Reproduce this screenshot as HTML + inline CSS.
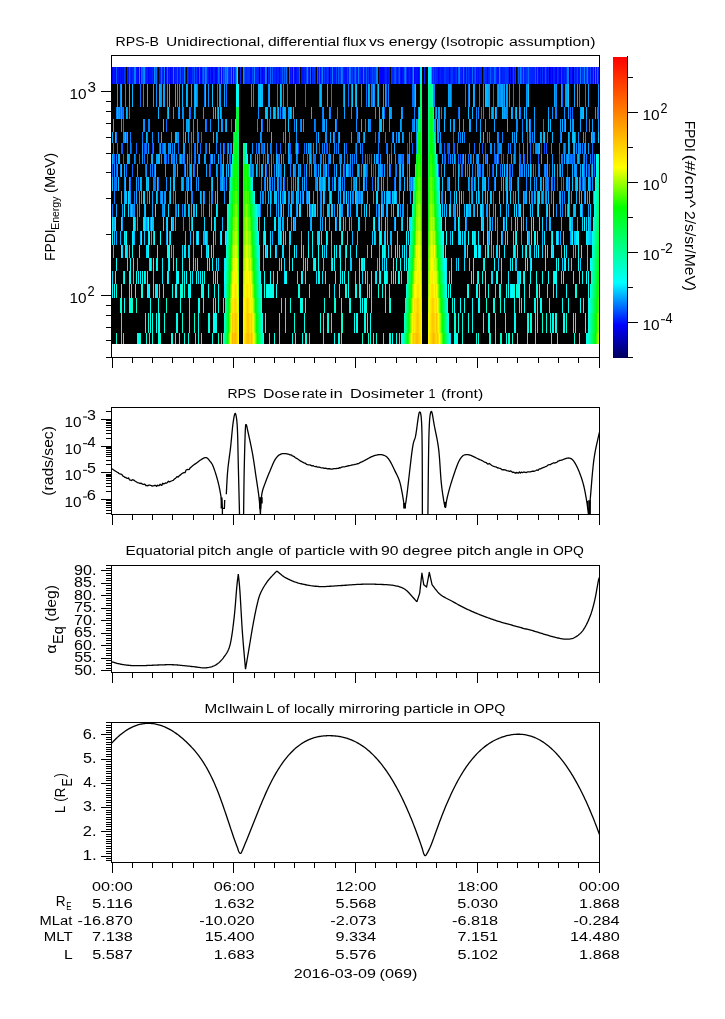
<!DOCTYPE html><html><head><meta charset="utf-8"><style>html,body{margin:0;padding:0;background:#fff;overflow:hidden}svg{display:block;will-change:transform}text{font-family:"Liberation Sans",sans-serif;fill:#000;white-space:pre}</style></head><body>
<svg width="725" height="1019" viewBox="0 0 725 1019">
<rect width="725" height="1019" fill="#fff"/>
<rect x="112" y="67" width="487" height="277" fill="#000" shape-rendering="crispEdges"/>
<path d="M112 67h1v17h-1zM115 67h1v17h-1zM117 67h1v17h-1zM119 67h1v17h-1zM121 67h1v17h-1zM123 67h1v17h-1zM138 67h1v17h-1zM140 67h1v17h-1zM148 67h1v17h-1zM153 67h1v17h-1zM157 67h1v17h-1zM170 67h1v17h-1zM181 67h1v17h-1zM189 67h1v17h-1zM195 67h1v17h-1zM198 67h1v17h-1zM201 67h1v17h-1zM209 67h1v17h-1zM211 67h2v17h-2zM215 67h2v17h-2zM220 67h1v17h-1zM232 67h1v17h-1zM262 67h1v17h-1zM279 67h1v17h-1zM287 67h1v17h-1zM292 67h1v17h-1zM295 67h1v17h-1zM309 67h1v17h-1zM323 67h1v17h-1zM333 67h1v17h-1zM337 67h1v17h-1zM369 67h1v17h-1zM380 67h4v17h-4zM387 67h1v17h-1zM401 67h1v17h-1zM407 67h1v17h-1zM411 67h1v17h-1zM414 67h1v17h-1zM418 67h1v17h-1zM438 67h1v17h-1zM449 67h1v17h-1zM457 67h1v17h-1zM465 67h1v17h-1zM473 67h1v17h-1zM487 67h1v17h-1zM517 67h1v17h-1zM539 67h1v17h-1zM541 67h1v17h-1zM543 67h1v17h-1zM547 67h1v17h-1zM550 67h1v17h-1zM552 67h1v17h-1zM555 67h2v17h-2zM559 67h2v17h-2zM572 67h1v17h-1zM591 67h1v17h-1zM594 67h1v17h-1z" fill="rgb(0,0,255)" shape-rendering="crispEdges"/>
<path d="M113 67h2v17h-2zM118 67h1v17h-1zM120 67h1v17h-1zM122 67h1v17h-1zM128 67h1v17h-1zM131 67h1v17h-1zM136 67h2v17h-2zM146 67h1v17h-1zM149 67h3v17h-3zM159 67h1v17h-1zM163 67h1v17h-1zM166 67h1v17h-1zM168 67h1v17h-1zM171 67h2v17h-2zM174 67h1v17h-1zM178 67h1v17h-1zM183 67h1v17h-1zM185 67h1v17h-1zM190 67h2v17h-2zM197 67h1v17h-1zM200 67h1v17h-1zM208 67h1v17h-1zM222 67h1v17h-1zM250 67h2v17h-2zM255 67h1v17h-1zM261 67h1v17h-1zM263 67h2v17h-2zM269 67h1v17h-1zM271 67h1v17h-1zM273 67h1v17h-1zM276 67h1v17h-1zM283 67h1v17h-1zM290 67h1v17h-1zM294 67h1v17h-1zM296 67h1v17h-1zM301 67h3v17h-3zM305 67h1v17h-1zM315 67h1v17h-1zM318 67h1v17h-1zM320 67h1v17h-1zM325 67h1v17h-1zM331 67h1v17h-1zM334 67h2v17h-2zM344 67h3v17h-3zM353 67h1v17h-1zM357 67h1v17h-1zM361 67h2v17h-2zM365 67h1v17h-1zM367 67h1v17h-1zM379 67h1v17h-1zM384 67h1v17h-1zM388 67h2v17h-2zM397 67h1v17h-1zM400 67h1v17h-1zM402 67h2v17h-2zM408 67h1v17h-1zM410 67h1v17h-1zM415 67h3v17h-3zM419 67h1v17h-1zM439 67h1v17h-1zM441 67h3v17h-3zM453 67h2v17h-2zM462 67h1v17h-1zM467 67h1v17h-1zM470 67h2v17h-2zM476 67h1v17h-1zM478 67h1v17h-1zM497 67h2v17h-2zM501 67h1v17h-1zM510 67h1v17h-1zM512 67h1v17h-1zM514 67h1v17h-1zM536 67h1v17h-1zM538 67h1v17h-1zM544 67h1v17h-1zM551 67h1v17h-1zM562 67h2v17h-2zM565 67h1v17h-1zM570 67h1v17h-1zM575 67h1v17h-1zM578 67h2v17h-2zM581 67h1v17h-1zM585 67h1v17h-1zM589 67h1v17h-1zM592 67h1v17h-1zM596 67h1v17h-1z" fill="rgb(0,18,255)" shape-rendering="crispEdges"/>
<path d="M116 67h1v17h-1zM129 67h1v17h-1zM142 67h1v17h-1zM177 67h1v17h-1zM180 67h1v17h-1zM194 67h1v17h-1zM223 67h1v17h-1zM244 67h1v17h-1zM272 67h1v17h-1zM282 67h1v17h-1zM284 67h1v17h-1zM299 67h1v17h-1zM317 67h1v17h-1zM338 67h1v17h-1zM366 67h1v17h-1zM395 67h1v17h-1zM399 67h1v17h-1zM404 67h1v17h-1zM475 67h1v17h-1zM490 67h1v17h-1zM495 67h1v17h-1zM518 67h1v17h-1zM521 67h1v17h-1zM535 67h1v17h-1zM537 67h1v17h-1zM545 67h1v17h-1zM593 67h1v17h-1zM121 143h2v11h-2zM127 143h1v11h-1zM159 143h1v11h-1zM162 143h1v11h-1zM189 143h1v11h-1zM205 143h1v11h-1zM224 143h1v11h-1zM290 143h1v11h-1zM319 143h1v11h-1zM346 143h1v11h-1zM407 143h1v11h-1zM444 143h1v11h-1zM448 143h1v11h-1zM453 143h2v11h-2zM482 143h1v11h-1zM533 143h1v11h-1zM546 143h1v11h-1zM563 143h1v11h-1zM565 143h1v11h-1zM114 154h1v10h-1zM135 154h1v10h-1zM166 154h1v10h-1zM179 154h1v10h-1zM182 154h1v10h-1zM210 154h1v10h-1zM221 154h1v10h-1zM251 154h1v10h-1zM265 154h1v10h-1zM273 154h1v10h-1zM347 154h1v10h-1zM367 154h1v10h-1zM369 154h1v10h-1zM371 154h1v10h-1zM402 154h1v10h-1zM444 154h1v10h-1zM448 154h1v10h-1zM460 154h1v10h-1zM471 154h1v10h-1zM486 154h1v10h-1zM494 154h1v10h-1zM496 154h1v10h-1zM503 154h1v10h-1zM513 154h1v10h-1zM524 154h1v10h-1zM538 154h1v10h-1zM559 154h1v10h-1zM569 154h1v10h-1zM572 154h1v10h-1zM583 154h1v10h-1zM210 164h1v13h-1zM277 164h1v13h-1zM281 164h1v13h-1zM299 164h1v13h-1zM304 164h1v13h-1zM328 164h1v13h-1zM344 164h1v13h-1zM349 164h1v13h-1zM359 164h1v13h-1zM367 164h1v13h-1zM373 164h1v13h-1zM395 164h1v13h-1zM455 164h1v13h-1zM475 164h1v13h-1zM492 164h1v13h-1zM510 164h1v13h-1zM520 164h1v13h-1zM535 164h1v13h-1zM546 164h1v13h-1zM549 164h1v13h-1zM567 164h1v13h-1zM588 164h1v13h-1zM594 164h1v13h-1z" fill="rgb(0,91,255)" shape-rendering="crispEdges"/>
<path d="M124 67h1v17h-1zM187 67h1v17h-1zM192 67h1v17h-1zM196 67h1v17h-1zM204 67h1v17h-1zM228 67h1v17h-1zM247 67h3v17h-3zM260 67h1v17h-1zM314 67h1v17h-1zM324 67h1v17h-1zM327 67h1v17h-1zM340 67h1v17h-1zM352 67h1v17h-1zM368 67h1v17h-1zM374 67h2v17h-2zM391 67h1v17h-1zM398 67h1v17h-1zM406 67h1v17h-1zM435 67h1v17h-1zM444 67h2v17h-2zM451 67h2v17h-2zM456 67h1v17h-1zM468 67h1v17h-1zM474 67h1v17h-1zM484 67h1v17h-1zM500 67h1v17h-1zM505 67h3v17h-3zM515 67h1v17h-1zM526 67h2v17h-2zM542 67h1v17h-1zM557 67h1v17h-1zM566 67h1v17h-1zM574 67h1v17h-1zM582 67h2v17h-2z" fill="rgb(0,55,255)" shape-rendering="crispEdges"/>
<path d="M125 67h1v17h-1zM127 67h1v17h-1zM130 67h1v17h-1zM132 67h2v17h-2zM145 67h1v17h-1zM147 67h1v17h-1zM152 67h1v17h-1zM160 67h1v17h-1zM162 67h1v17h-1zM169 67h1v17h-1zM175 67h2v17h-2zM179 67h1v17h-1zM182 67h1v17h-1zM188 67h1v17h-1zM193 67h1v17h-1zM207 67h1v17h-1zM210 67h1v17h-1zM213 67h2v17h-2zM217 67h1v17h-1zM229 67h2v17h-2zM234 67h1v17h-1zM240 67h1v17h-1zM245 67h2v17h-2zM253 67h1v17h-1zM256 67h3v17h-3zM268 67h1v17h-1zM274 67h2v17h-2zM277 67h2v17h-2zM280 67h2v17h-2zM285 67h1v17h-1zM291 67h1v17h-1zM297 67h2v17h-2zM304 67h1v17h-1zM308 67h1v17h-1zM312 67h2v17h-2zM326 67h1v17h-1zM328 67h1v17h-1zM330 67h1v17h-1zM339 67h1v17h-1zM343 67h1v17h-1zM348 67h1v17h-1zM351 67h1v17h-1zM356 67h1v17h-1zM359 67h2v17h-2zM364 67h1v17h-1zM370 67h2v17h-2zM373 67h1v17h-1zM385 67h2v17h-2zM392 67h2v17h-2zM396 67h1v17h-1zM409 67h1v17h-1zM424 67h1v17h-1zM432 67h1v17h-1zM434 67h1v17h-1zM436 67h2v17h-2zM440 67h1v17h-1zM446 67h3v17h-3zM450 67h1v17h-1zM455 67h1v17h-1zM460 67h2v17h-2zM464 67h1v17h-1zM469 67h1v17h-1zM477 67h1v17h-1zM479 67h3v17h-3zM483 67h1v17h-1zM485 67h2v17h-2zM488 67h2v17h-2zM491 67h3v17h-3zM496 67h1v17h-1zM502 67h3v17h-3zM508 67h1v17h-1zM519 67h1v17h-1zM522 67h1v17h-1zM524 67h2v17h-2zM529 67h6v17h-6zM540 67h1v17h-1zM546 67h1v17h-1zM548 67h1v17h-1zM553 67h2v17h-2zM558 67h1v17h-1zM564 67h1v17h-1zM571 67h1v17h-1zM576 67h1v17h-1zM588 67h1v17h-1zM598 67h1v17h-1z" fill="rgb(0,36,255)" shape-rendering="crispEdges"/>
<path d="M134 67h2v17h-2zM143 67h1v17h-1zM164 67h1v17h-1zM173 67h1v17h-1zM184 67h1v17h-1zM205 67h1v17h-1zM225 67h1v17h-1zM231 67h1v17h-1zM233 67h1v17h-1zM254 67h1v17h-1zM265 67h1v17h-1zM307 67h1v17h-1zM322 67h1v17h-1zM332 67h1v17h-1zM341 67h1v17h-1zM349 67h1v17h-1zM358 67h1v17h-1zM363 67h1v17h-1zM376 67h2v17h-2zM405 67h1v17h-1zM459 67h1v17h-1zM499 67h1v17h-1zM520 67h1v17h-1zM567 67h2v17h-2zM580 67h1v17h-1zM584 67h1v17h-1zM587 67h1v17h-1zM595 67h1v17h-1zM197 84h1v23h-1zM204 84h1v23h-1zM217 84h1v23h-1zM277 84h1v23h-1zM287 84h1v23h-1zM305 84h1v23h-1zM319 84h1v23h-1zM331 84h1v23h-1zM343 84h1v23h-1zM351 84h1v23h-1zM371 84h1v23h-1zM388 84h1v23h-1zM434 84h1v23h-1zM465 84h1v23h-1zM468 84h1v23h-1zM479 84h1v23h-1zM497 84h1v23h-1zM499 84h1v23h-1zM513 84h1v23h-1zM527 84h1v23h-1zM579 84h1v23h-1zM585 84h1v23h-1zM116 107h1v12h-1zM123 107h1v12h-1zM129 107h1v12h-1zM183 107h1v12h-1zM195 107h1v12h-1zM217 107h1v12h-1zM277 107h1v12h-1zM280 107h1v12h-1zM322 107h1v12h-1zM330 107h1v12h-1zM337 107h1v12h-1zM414 107h1v12h-1zM441 107h1v12h-1zM445 107h1v12h-1zM476 107h1v12h-1zM478 107h1v12h-1zM481 107h1v12h-1zM491 107h1v12h-1zM503 107h1v12h-1zM507 107h1v12h-1zM520 107h1v12h-1zM555 107h2v12h-2zM597 107h1v12h-1zM123 119h1v13h-1zM148 119h2v13h-2zM189 119h1v13h-1zM231 119h1v13h-1zM269 119h1v13h-1zM294 119h1v13h-1zM300 119h1v13h-1zM314 119h1v13h-1zM322 119h1v13h-1zM336 119h1v13h-1zM365 119h1v13h-1zM369 119h2v13h-2zM401 119h1v13h-1zM412 119h2v13h-2zM417 119h1v13h-1zM438 119h1v13h-1zM517 119h1v13h-1zM522 119h1v13h-1zM530 119h1v13h-1zM543 119h1v13h-1zM564 119h1v13h-1zM586 119h1v13h-1zM116 132h1v11h-1zM130 132h1v11h-1zM142 132h1v11h-1zM147 132h1v11h-1zM177 132h1v11h-1zM197 132h2v11h-2zM217 132h1v11h-1zM261 132h1v11h-1zM289 132h1v11h-1zM316 132h1v11h-1zM334 132h1v11h-1zM358 132h1v11h-1zM363 132h1v11h-1zM385 132h1v11h-1zM392 132h1v11h-1zM403 132h1v11h-1zM411 132h1v11h-1zM460 132h1v11h-1zM464 132h1v11h-1zM489 132h1v11h-1zM498 132h1v11h-1zM502 132h1v11h-1zM529 132h1v11h-1zM532 132h1v11h-1zM560 132h1v11h-1zM569 132h1v11h-1zM575 132h1v11h-1zM585 132h1v11h-1zM117 143h1v11h-1zM130 143h1v11h-1zM145 143h1v11h-1zM153 143h1v11h-1zM163 143h1v11h-1zM165 143h1v11h-1zM172 143h1v11h-1zM195 143h1v11h-1zM206 143h1v11h-1zM216 143h1v11h-1zM220 143h1v11h-1zM258 143h1v11h-1zM270 143h1v11h-1zM322 143h1v11h-1zM378 143h1v11h-1zM387 143h1v11h-1zM409 143h1v11h-1zM457 143h1v11h-1zM469 143h1v11h-1zM479 143h1v11h-1zM494 143h1v11h-1zM498 143h2v11h-2zM501 143h1v11h-1zM508 143h1v11h-1zM510 143h1v11h-1zM514 143h1v11h-1zM535 143h1v11h-1zM559 143h1v11h-1zM576 143h1v11h-1zM582 143h1v11h-1zM584 143h1v11h-1zM116 154h1v10h-1zM164 154h1v10h-1zM168 154h1v10h-1zM173 154h1v10h-1zM184 154h1v10h-1zM191 154h1v10h-1zM195 154h1v10h-1zM198 154h1v10h-1zM214 154h1v10h-1zM263 154h1v10h-1zM307 154h1v10h-1zM313 154h1v10h-1zM320 154h2v10h-2zM325 154h1v10h-1zM352 154h1v10h-1zM354 154h1v10h-1zM365 154h1v10h-1zM403 154h1v10h-1zM437 154h1v10h-1zM476 154h1v10h-1zM495 154h1v10h-1zM507 154h1v10h-1zM519 154h1v10h-1zM561 154h1v10h-1zM566 154h1v10h-1zM571 154h1v10h-1zM590 154h1v10h-1zM594 154h1v10h-1zM150 164h1v13h-1zM152 164h1v13h-1zM154 164h1v13h-1zM175 164h1v13h-1zM187 164h1v13h-1zM209 164h1v13h-1zM217 164h1v13h-1zM253 164h1v13h-1zM274 164h1v13h-1zM279 164h2v13h-2zM290 164h1v13h-1zM295 164h1v13h-1zM309 164h1v13h-1zM323 164h1v13h-1zM334 164h1v13h-1zM361 164h1v13h-1zM366 164h1v13h-1zM375 164h1v13h-1zM379 164h1v13h-1zM396 164h1v13h-1zM407 164h1v13h-1zM441 164h1v13h-1zM459 164h1v13h-1zM467 164h1v13h-1zM478 164h1v13h-1zM482 164h1v13h-1zM493 164h1v13h-1zM506 164h1v13h-1zM509 164h1v13h-1zM512 164h1v13h-1zM522 164h1v13h-1zM531 164h1v13h-1zM538 164h1v13h-1zM544 164h1v13h-1zM116 177h1v14h-1zM138 177h1v14h-1zM153 177h2v14h-2zM158 177h1v14h-1zM186 177h2v14h-2zM220 177h1v14h-1zM261 177h1v14h-1zM264 177h1v14h-1zM272 177h1v14h-1zM280 177h1v14h-1zM315 177h1v14h-1zM325 177h1v14h-1zM338 177h1v14h-1zM342 177h1v14h-1zM344 177h1v14h-1zM353 177h1v14h-1zM355 177h1v14h-1zM366 177h1v14h-1zM377 177h1v14h-1zM410 177h1v14h-1zM412 177h1v14h-1zM469 177h1v14h-1zM472 177h1v14h-1zM488 177h1v14h-1zM494 177h1v14h-1zM526 177h1v14h-1zM546 177h1v14h-1zM554 177h1v14h-1zM563 177h1v14h-1zM590 177h1v14h-1zM114 191h1v13h-1zM134 191h1v13h-1zM147 191h1v13h-1zM160 191h1v13h-1zM173 191h1v13h-1zM185 191h1v13h-1zM191 191h2v13h-2zM201 191h1v13h-1zM209 191h1v13h-1zM212 191h1v13h-1zM263 191h1v13h-1zM265 191h1v13h-1zM271 191h1v13h-1zM278 191h1v13h-1zM282 191h2v13h-2zM289 191h1v13h-1zM293 191h1v13h-1zM302 191h1v13h-1zM306 191h1v13h-1zM320 191h1v13h-1zM348 191h1v13h-1zM352 191h2v13h-2zM358 191h1v13h-1zM360 191h1v13h-1zM390 191h1v13h-1zM441 191h1v13h-1zM469 191h1v13h-1zM471 191h1v13h-1zM493 191h1v13h-1zM524 191h1v13h-1zM531 191h2v13h-2zM541 191h1v13h-1zM543 191h1v13h-1zM545 191h1v13h-1zM562 191h1v13h-1zM564 191h1v13h-1zM112 204h1v13h-1zM133 204h1v13h-1zM163 204h1v13h-1zM175 204h1v13h-1zM182 204h1v13h-1zM260 204h1v13h-1zM323 204h1v13h-1zM407 204h1v13h-1zM518 204h1v13h-1zM562 204h1v13h-1z" fill="rgb(0,127,255)" shape-rendering="crispEdges"/>
<path d="M139 67h1v17h-1zM144 67h1v17h-1zM154 67h1v17h-1zM221 67h1v17h-1zM227 67h1v17h-1zM243 67h1v17h-1zM413 67h1v17h-1zM120 84h1v23h-1zM125 84h1v23h-1zM143 84h1v23h-1zM156 84h1v23h-1zM161 84h1v23h-1zM208 84h1v23h-1zM253 84h1v23h-1zM268 84h1v23h-1zM283 84h1v23h-1zM361 84h1v23h-1zM369 84h1v23h-1zM374 84h1v23h-1zM414 84h1v23h-1zM433 84h1v23h-1zM449 84h1v23h-1zM483 84h1v23h-1zM500 84h1v23h-1zM507 84h1v23h-1zM509 84h1v23h-1zM519 84h1v23h-1zM526 84h1v23h-1zM556 84h1v23h-1zM565 84h1v23h-1zM598 84h1v23h-1zM118 107h1v12h-1zM127 107h1v12h-1zM167 107h1v12h-1zM178 107h1v12h-1zM182 107h1v12h-1zM189 107h1v12h-1zM221 107h1v12h-1zM258 107h1v12h-1zM275 107h1v12h-1zM288 107h2v12h-2zM291 107h1v12h-1zM323 107h1v12h-1zM351 107h1v12h-1zM391 107h1v12h-1zM402 107h1v12h-1zM459 107h1v12h-1zM483 107h1v12h-1zM493 107h1v12h-1zM505 107h2v12h-2zM515 107h1v12h-1zM552 107h1v12h-1zM564 107h1v12h-1zM568 107h1v12h-1zM143 119h2v13h-2zM183 119h1v13h-1zM187 119h1v13h-1zM205 119h1v13h-1zM210 119h1v13h-1zM222 119h1v13h-1zM225 119h1v13h-1zM257 119h1v13h-1zM301 119h1v13h-1zM356 119h1v13h-1zM453 119h1v13h-1zM476 119h1v13h-1zM516 119h1v13h-1zM572 119h1v13h-1zM589 119h1v13h-1zM598 119h1v13h-1zM123 132h2v11h-2zM152 132h1v11h-1zM158 132h1v11h-1zM171 132h1v11h-1zM178 132h1v11h-1zM191 132h1v11h-1zM260 132h1v11h-1zM283 132h1v11h-1zM296 132h1v11h-1zM325 132h2v11h-2zM338 132h1v11h-1zM379 132h1v11h-1zM396 132h1v11h-1zM409 132h1v11h-1zM416 132h1v11h-1zM437 132h1v11h-1zM440 132h1v11h-1zM458 132h1v11h-1zM487 132h1v11h-1zM497 132h1v11h-1zM514 132h1v11h-1zM530 132h1v11h-1zM547 132h1v11h-1zM578 132h1v11h-1zM592 132h1v11h-1zM594 132h1v11h-1zM168 143h1v11h-1zM223 143h1v11h-1zM231 143h1v11h-1zM252 143h1v11h-1zM259 143h1v11h-1zM264 143h1v11h-1zM267 143h1v11h-1zM306 143h1v11h-1zM313 143h1v11h-1zM324 143h1v11h-1zM334 143h1v11h-1zM338 143h1v11h-1zM356 143h1v11h-1zM360 143h1v11h-1zM416 143h1v11h-1zM440 143h1v11h-1zM490 143h2v11h-2zM500 143h1v11h-1zM523 143h1v11h-1zM536 143h2v11h-2zM551 143h1v11h-1zM564 143h1v11h-1zM569 143h1v11h-1zM573 143h1v11h-1zM578 143h1v11h-1zM580 143h1v11h-1zM134 154h1v10h-1zM161 154h1v10h-1zM165 154h1v10h-1zM174 154h1v10h-1zM176 154h1v10h-1zM181 154h1v10h-1zM205 154h1v10h-1zM227 154h1v10h-1zM255 154h1v10h-1zM268 154h1v10h-1zM271 154h1v10h-1zM279 154h1v10h-1zM283 154h1v10h-1zM296 154h1v10h-1zM309 154h1v10h-1zM340 154h2v10h-2zM344 154h1v10h-1zM356 154h1v10h-1zM380 154h1v10h-1zM389 154h1v10h-1zM395 154h1v10h-1zM399 154h2v10h-2zM407 154h1v10h-1zM450 154h1v10h-1zM452 154h1v10h-1zM470 154h1v10h-1zM483 154h1v10h-1zM485 154h1v10h-1zM523 154h1v10h-1zM527 154h1v10h-1zM552 154h1v10h-1zM574 154h1v10h-1zM577 154h1v10h-1zM584 154h1v10h-1zM114 164h1v13h-1zM120 164h1v13h-1zM146 164h1v13h-1zM174 164h1v13h-1zM193 164h1v13h-1zM230 164h1v13h-1zM250 164h1v13h-1zM269 164h1v13h-1zM294 164h1v13h-1zM311 164h1v13h-1zM315 164h1v13h-1zM325 164h1v13h-1zM343 164h1v13h-1zM348 164h1v13h-1zM350 164h1v13h-1zM357 164h1v13h-1zM381 164h1v13h-1zM402 164h1v13h-1zM472 164h1v13h-1zM479 164h1v13h-1zM483 164h1v13h-1zM521 164h1v13h-1zM526 164h1v13h-1zM533 164h1v13h-1zM539 164h1v13h-1zM562 164h1v13h-1zM574 164h1v13h-1zM576 164h1v13h-1zM124 177h1v14h-1zM166 177h1v14h-1zM181 177h1v14h-1zM183 177h1v14h-1zM196 177h1v14h-1zM198 177h1v14h-1zM221 177h1v14h-1zM226 177h1v14h-1zM270 177h1v14h-1zM274 177h1v14h-1zM278 177h1v14h-1zM291 177h1v14h-1zM316 177h1v14h-1zM321 177h1v14h-1zM387 177h1v14h-1zM409 177h1v14h-1zM448 177h1v14h-1zM471 177h1v14h-1zM509 177h1v14h-1zM534 177h1v14h-1zM536 177h1v14h-1zM541 177h1v14h-1zM547 177h1v14h-1zM551 177h1v14h-1zM580 177h1v14h-1zM584 177h1v14h-1zM592 177h1v14h-1zM130 191h1v13h-1zM157 191h1v13h-1zM164 191h1v13h-1zM169 191h1v13h-1zM204 191h1v13h-1zM211 191h1v13h-1zM224 191h1v13h-1zM262 191h1v13h-1zM288 191h1v13h-1zM292 191h1v13h-1zM297 191h1v13h-1zM344 191h1v13h-1zM381 191h2v13h-2zM393 191h1v13h-1zM442 191h1v13h-1zM463 191h1v13h-1zM479 191h1v13h-1zM513 191h1v13h-1zM535 191h1v13h-1zM551 191h1v13h-1zM584 191h1v13h-1zM130 204h1v13h-1zM134 204h1v13h-1zM137 204h1v13h-1zM162 204h1v13h-1zM176 204h1v13h-1zM185 204h1v13h-1zM201 204h1v13h-1zM276 204h1v13h-1zM280 204h1v13h-1zM296 204h1v13h-1zM310 204h2v13h-2zM313 204h1v13h-1zM317 204h1v13h-1zM320 204h2v13h-2zM334 204h1v13h-1zM341 204h2v13h-2zM348 204h1v13h-1zM361 204h1v13h-1zM376 204h1v13h-1zM378 204h1v13h-1zM400 204h1v13h-1zM402 204h2v13h-2zM454 204h1v13h-1zM473 204h1v13h-1zM483 204h1v13h-1zM486 204h1v13h-1zM556 204h1v13h-1zM569 204h1v13h-1zM582 204h1v13h-1zM146 217h1v14h-1zM150 217h1v14h-1zM183 217h1v14h-1zM294 217h1v14h-1zM365 217h1v14h-1zM466 217h1v14h-1zM489 217h1v14h-1zM492 217h1v14h-1zM546 217h1v14h-1zM589 217h1v14h-1z" fill="rgb(0,146,255)" shape-rendering="crispEdges"/>
<path d="M141 67h1v17h-1zM156 67h1v17h-1zM161 67h1v17h-1zM167 67h1v17h-1zM199 67h1v17h-1zM203 67h1v17h-1zM206 67h1v17h-1zM218 67h1v17h-1zM226 67h1v17h-1zM266 67h1v17h-1zM270 67h1v17h-1zM286 67h1v17h-1zM289 67h1v17h-1zM293 67h1v17h-1zM310 67h1v17h-1zM319 67h1v17h-1zM342 67h1v17h-1zM350 67h1v17h-1zM355 67h1v17h-1zM458 67h1v17h-1zM463 67h1v17h-1zM472 67h1v17h-1zM494 67h1v17h-1zM523 67h1v17h-1zM528 67h1v17h-1zM597 67h1v17h-1zM140 84h1v23h-1zM226 84h1v23h-1zM348 84h1v23h-1zM366 84h1v23h-1zM372 84h1v23h-1zM377 84h1v23h-1zM386 84h1v23h-1zM412 84h2v23h-2zM451 84h1v23h-1zM493 84h1v23h-1zM503 84h1v23h-1zM555 84h1v23h-1zM562 84h1v23h-1zM120 107h1v12h-1zM122 107h1v12h-1zM190 107h1v12h-1zM282 107h1v12h-1zM356 107h1v12h-1zM384 107h1v12h-1zM435 107h1v12h-1zM458 107h1v12h-1zM570 107h1v12h-1zM572 107h1v12h-1zM598 107h1v12h-1zM166 119h1v13h-1zM206 119h1v13h-1zM262 119h1v13h-1zM315 119h1v13h-1zM527 119h1v13h-1zM126 132h1v11h-1zM201 132h1v11h-1zM357 132h1v11h-1zM375 132h1v11h-1zM378 132h1v11h-1zM453 132h1v11h-1zM527 132h1v11h-1zM113 143h1v11h-1zM136 143h1v11h-1zM146 143h1v11h-1zM169 143h1v11h-1zM178 143h1v11h-1zM191 143h1v11h-1zM194 143h1v11h-1zM200 143h1v11h-1zM227 143h1v11h-1zM230 143h1v11h-1zM256 143h1v11h-1zM261 143h2v11h-2zM271 143h1v11h-1zM276 143h1v11h-1zM280 143h1v11h-1zM285 143h1v11h-1zM289 143h1v11h-1zM304 143h1v11h-1zM309 143h1v11h-1zM327 143h1v11h-1zM336 143h1v11h-1zM362 143h1v11h-1zM386 143h1v11h-1zM391 143h1v11h-1zM412 143h1v11h-1zM439 143h1v11h-1zM441 143h1v11h-1zM449 143h1v11h-1zM474 143h1v11h-1zM515 143h1v11h-1zM519 143h1v11h-1zM530 143h1v11h-1zM579 143h1v11h-1zM592 143h1v11h-1zM113 154h1v10h-1zM123 154h1v10h-1zM139 154h1v10h-1zM144 154h1v10h-1zM147 154h1v10h-1zM172 154h1v10h-1zM189 154h1v10h-1zM194 154h1v10h-1zM220 154h1v10h-1zM229 154h2v10h-2zM259 154h1v10h-1zM278 154h1v10h-1zM290 154h2v10h-2zM297 154h1v10h-1zM303 154h1v10h-1zM311 154h1v10h-1zM314 154h2v10h-2zM328 154h1v10h-1zM339 154h1v10h-1zM362 154h1v10h-1zM378 154h1v10h-1zM398 154h1v10h-1zM401 154h1v10h-1zM408 154h1v10h-1zM445 154h1v10h-1zM455 154h1v10h-1zM458 154h1v10h-1zM462 154h1v10h-1zM468 154h1v10h-1zM498 154h1v10h-1zM501 154h1v10h-1zM515 154h1v10h-1zM520 154h1v10h-1zM530 154h1v10h-1zM562 154h1v10h-1zM570 154h1v10h-1zM573 154h1v10h-1zM579 154h1v10h-1zM586 154h1v10h-1zM592 154h1v10h-1zM112 164h1v13h-1zM116 164h1v13h-1zM126 164h1v13h-1zM132 164h1v13h-1zM145 164h1v13h-1zM184 164h1v13h-1zM189 164h1v13h-1zM194 164h1v13h-1zM220 164h2v13h-2zM251 164h1v13h-1zM257 164h1v13h-1zM259 164h1v13h-1zM266 164h1v13h-1zM316 164h1v13h-1zM324 164h1v13h-1zM352 164h1v13h-1zM382 164h1v13h-1zM387 164h1v13h-1zM390 164h1v13h-1zM438 164h1v13h-1zM461 164h2v13h-2zM480 164h1v13h-1zM487 164h1v13h-1zM489 164h1v13h-1zM500 164h1v13h-1zM559 164h1v13h-1zM584 164h1v13h-1zM589 164h1v13h-1zM591 164h1v13h-1zM114 177h2v14h-2zM130 177h1v14h-1zM155 177h1v14h-1zM190 177h1v14h-1zM223 177h2v14h-2zM229 177h1v14h-1zM281 177h1v14h-1zM284 177h1v14h-1zM287 177h1v14h-1zM306 177h1v14h-1zM332 177h1v14h-1zM351 177h1v14h-1zM359 177h1v14h-1zM372 177h1v14h-1zM394 177h1v14h-1zM447 177h1v14h-1zM455 177h1v14h-1zM475 177h1v14h-1zM505 177h1v14h-1zM510 177h1v14h-1zM517 177h1v14h-1zM545 177h1v14h-1zM548 177h1v14h-1zM552 177h1v14h-1zM557 177h1v14h-1zM561 177h1v14h-1zM568 177h1v14h-1zM582 177h1v14h-1zM585 177h1v14h-1z" fill="rgb(0,109,255)" shape-rendering="crispEdges"/>
<path d="M155 67h1v17h-1zM202 67h1v17h-1zM219 67h1v17h-1zM224 67h1v17h-1zM235 67h1v17h-1zM252 67h1v17h-1zM306 67h1v17h-1zM321 67h1v17h-1zM336 67h1v17h-1zM347 67h1v17h-1zM354 67h1v17h-1zM372 67h1v17h-1zM394 67h1v17h-1zM412 67h1v17h-1zM433 67h1v17h-1zM466 67h1v17h-1zM513 67h1v17h-1zM561 67h1v17h-1zM577 67h1v17h-1zM586 67h1v17h-1zM590 67h1v17h-1zM131 143h1v11h-1zM144 143h1v11h-1zM152 143h1v11h-1zM263 143h1v11h-1zM295 143h1v11h-1zM298 143h1v11h-1zM311 143h1v11h-1zM326 143h1v11h-1zM329 143h1v11h-1zM355 143h1v11h-1zM447 143h1v11h-1zM485 143h1v11h-1zM497 143h1v11h-1zM541 143h1v11h-1zM544 143h1v11h-1z" fill="rgb(0,73,255)" shape-rendering="crispEdges"/>
<path d="M236 67h1v17h-1zM431 67h1v17h-1zM117 84h1v23h-1zM153 84h1v23h-1zM160 84h1v23h-1zM163 84h2v23h-2zM167 84h1v23h-1zM177 84h1v23h-1zM179 84h1v23h-1zM187 84h1v23h-1zM191 84h1v23h-1zM194 84h1v23h-1zM196 84h1v23h-1zM219 84h2v23h-2zM224 84h1v23h-1zM251 84h1v23h-1zM269 84h1v23h-1zM281 84h1v23h-1zM321 84h1v23h-1zM355 84h1v23h-1zM383 84h1v23h-1zM385 84h1v23h-1zM448 84h1v23h-1zM450 84h1v23h-1zM474 84h1v23h-1zM488 84h2v23h-2zM498 84h1v23h-1zM501 84h2v23h-2zM504 84h1v23h-1zM506 84h1v23h-1zM554 84h1v23h-1zM561 84h1v23h-1zM566 84h2v23h-2zM574 84h1v23h-1zM588 84h1v23h-1zM119 107h1v12h-1zM121 107h1v12h-1zM173 107h1v12h-1zM179 107h1v12h-1zM203 107h1v12h-1zM270 107h1v12h-1zM273 107h1v12h-1zM285 107h1v12h-1zM329 107h1v12h-1zM344 107h1v12h-1zM357 107h1v12h-1zM375 107h1v12h-1zM382 107h1v12h-1zM390 107h1v12h-1zM401 107h1v12h-1zM418 107h1v12h-1zM436 107h1v12h-1zM438 107h2v12h-2zM444 107h1v12h-1zM489 107h1v12h-1zM496 107h1v12h-1zM504 107h1v12h-1zM512 107h1v12h-1zM526 107h1v12h-1zM534 107h1v12h-1zM548 107h1v12h-1zM580 107h1v12h-1zM586 107h1v12h-1zM595 107h1v12h-1zM121 119h1v13h-1zM186 119h1v13h-1zM193 119h1v13h-1zM197 119h1v13h-1zM221 119h1v13h-1zM267 119h1v13h-1zM285 119h1v13h-1zM303 119h1v13h-1zM323 119h2v13h-2zM326 119h1v13h-1zM368 119h1v13h-1zM379 119h1v13h-1zM389 119h1v13h-1zM400 119h1v13h-1zM414 119h1v13h-1zM416 119h1v13h-1zM434 119h2v13h-2zM439 119h1v13h-1zM454 119h1v13h-1zM463 119h1v13h-1zM470 119h1v13h-1zM480 119h1v13h-1zM485 119h1v13h-1zM494 119h1v13h-1zM534 119h1v13h-1zM560 119h1v13h-1zM573 119h1v13h-1zM580 119h1v13h-1zM592 119h1v13h-1zM183 132h1v11h-1zM188 132h1v11h-1zM193 132h1v11h-1zM216 132h1v11h-1zM233 132h1v11h-1zM351 132h1v11h-1zM398 132h2v11h-2zM402 132h1v11h-1zM438 132h1v11h-1zM522 132h1v11h-1zM534 132h1v11h-1zM541 132h1v11h-1zM543 132h1v11h-1zM561 132h1v11h-1zM583 132h1v11h-1zM142 143h1v11h-1zM148 143h1v11h-1zM160 143h1v11h-1zM164 143h1v11h-1zM170 143h1v11h-1zM174 143h1v11h-1zM183 143h2v11h-2zM197 143h1v11h-1zM228 143h1v11h-1zM308 143h1v11h-1zM310 143h1v11h-1zM316 143h1v11h-1zM344 143h1v11h-1zM394 143h1v11h-1zM527 143h1v11h-1zM538 143h1v11h-1zM585 143h1v11h-1zM588 143h1v11h-1zM129 154h1v10h-1zM142 154h1v10h-1zM151 154h1v10h-1zM156 154h2v10h-2zM171 154h1v10h-1zM183 154h1v10h-1zM204 154h1v10h-1zM212 154h1v10h-1zM277 154h1v10h-1zM288 154h2v10h-2zM323 154h1v10h-1zM329 154h2v10h-2zM333 154h1v10h-1zM350 154h1v10h-1zM376 154h2v10h-2zM391 154h1v10h-1zM442 154h1v10h-1zM465 154h1v10h-1zM473 154h1v10h-1zM477 154h2v10h-2zM511 154h1v10h-1zM514 154h1v10h-1zM567 154h2v10h-2zM117 164h1v13h-1zM137 164h1v13h-1zM165 164h1v13h-1zM173 164h1v13h-1zM191 164h1v13h-1zM206 164h1v13h-1zM216 164h1v13h-1zM252 164h1v13h-1zM298 164h1v13h-1zM300 164h1v13h-1zM314 164h1v13h-1zM318 164h1v13h-1zM363 164h1v13h-1zM365 164h1v13h-1zM371 164h1v13h-1zM378 164h1v13h-1zM380 164h1v13h-1zM384 164h1v13h-1zM399 164h1v13h-1zM453 164h1v13h-1zM469 164h1v13h-1zM477 164h1v13h-1zM502 164h1v13h-1zM519 164h1v13h-1zM524 164h1v13h-1zM528 164h1v13h-1zM545 164h1v13h-1zM552 164h1v13h-1zM557 164h1v13h-1zM575 164h1v13h-1zM580 164h1v13h-1zM583 164h1v13h-1zM586 164h1v13h-1zM136 177h1v14h-1zM141 177h1v14h-1zM147 177h1v14h-1zM211 177h1v14h-1zM217 177h1v14h-1zM265 177h1v14h-1zM269 177h1v14h-1zM277 177h1v14h-1zM293 177h1v14h-1zM295 177h1v14h-1zM297 177h1v14h-1zM302 177h1v14h-1zM322 177h1v14h-1zM328 177h2v14h-2zM354 177h1v14h-1zM364 177h1v14h-1zM383 177h1v14h-1zM395 177h1v14h-1zM399 177h2v14h-2zM468 177h1v14h-1zM483 177h1v14h-1zM501 177h1v14h-1zM566 177h1v14h-1zM575 177h1v14h-1zM579 177h1v14h-1zM124 191h1v13h-1zM136 191h1v13h-1zM152 191h1v13h-1zM161 191h2v13h-2zM165 191h1v13h-1zM175 191h1v13h-1zM260 191h1v13h-1zM298 191h1v13h-1zM300 191h1v13h-1zM308 191h1v13h-1zM313 191h1v13h-1zM317 191h1v13h-1zM321 191h1v13h-1zM329 191h1v13h-1zM338 191h1v13h-1zM359 191h1v13h-1zM373 191h1v13h-1zM386 191h1v13h-1zM399 191h1v13h-1zM410 191h1v13h-1zM450 191h1v13h-1zM506 191h1v13h-1zM525 191h1v13h-1zM537 191h1v13h-1zM546 191h1v13h-1zM559 191h1v13h-1zM569 191h1v13h-1zM571 191h1v13h-1zM593 191h1v13h-1zM116 204h1v13h-1zM122 204h1v13h-1zM132 204h1v13h-1zM139 204h1v13h-1zM152 204h1v13h-1zM189 204h1v13h-1zM203 204h1v13h-1zM211 204h1v13h-1zM267 204h1v13h-1zM288 204h1v13h-1zM329 204h1v13h-1zM350 204h1v13h-1zM382 204h2v13h-2zM386 204h1v13h-1zM391 204h1v13h-1zM453 204h1v13h-1zM455 204h1v13h-1zM468 204h1v13h-1zM487 204h1v13h-1zM493 204h1v13h-1zM508 204h1v13h-1zM560 204h1v13h-1zM565 204h1v13h-1zM567 204h1v13h-1zM573 204h1v13h-1zM588 204h1v13h-1zM113 217h1v14h-1zM122 217h1v14h-1zM137 217h1v14h-1zM189 217h1v14h-1zM191 217h1v14h-1zM259 217h1v14h-1zM283 217h1v14h-1zM310 217h1v14h-1zM322 217h1v14h-1zM336 217h1v14h-1zM345 217h1v14h-1zM351 217h1v14h-1zM378 217h1v14h-1zM387 217h1v14h-1zM394 217h1v14h-1zM454 217h1v14h-1zM459 217h1v14h-1zM497 217h1v14h-1zM504 217h1v14h-1zM526 217h1v14h-1zM571 217h1v14h-1zM577 217h1v14h-1zM590 217h1v14h-1zM116 231h1v14h-1zM166 231h1v14h-1zM204 231h1v14h-1zM207 231h1v14h-1zM215 231h1v14h-1zM272 231h1v14h-1zM488 231h1v14h-1zM502 231h1v14h-1zM521 231h1v14h-1zM560 231h1v14h-1zM570 231h1v14h-1zM591 231h1v14h-1z" fill="rgb(0,164,255)" shape-rendering="crispEdges"/>
<path d="M237 67h1v17h-1zM420 67h2v17h-2zM428 67h3v17h-3zM252 177h1v14h-1zM124 204h1v13h-1zM155 204h1v13h-1zM196 204h1v13h-1zM216 204h1v13h-1zM299 204h1v13h-1zM309 204h1v13h-1zM312 204h1v13h-1zM381 204h1v13h-1zM449 204h1v13h-1zM481 204h1v13h-1zM538 204h1v13h-1zM553 204h1v13h-1zM568 204h1v13h-1zM112 217h1v14h-1zM115 217h1v14h-1zM121 217h1v14h-1zM133 217h2v14h-2zM144 217h1v14h-1zM151 217h1v14h-1zM163 217h1v14h-1zM192 217h1v14h-1zM214 217h1v14h-1zM264 217h1v14h-1zM274 217h2v14h-2zM325 217h1v14h-1zM335 217h1v14h-1zM339 217h2v14h-2zM379 217h1v14h-1zM385 217h1v14h-1zM410 217h1v14h-1zM445 217h1v14h-1zM481 217h1v14h-1zM503 217h1v14h-1zM506 217h1v14h-1zM515 217h1v14h-1zM521 217h1v14h-1zM531 217h1v14h-1zM539 217h1v14h-1zM570 217h1v14h-1zM124 231h1v14h-1zM132 231h1v14h-1zM148 231h1v14h-1zM170 231h1v14h-1zM205 231h1v14h-1zM280 231h1v14h-1zM321 231h1v14h-1zM397 231h1v14h-1zM460 231h1v14h-1zM474 231h1v14h-1zM478 231h1v14h-1zM483 231h1v14h-1zM507 231h1v14h-1zM513 231h1v14h-1zM537 231h1v14h-1zM544 231h1v14h-1zM557 231h1v14h-1zM576 231h2v14h-2zM586 231h1v14h-1zM125 245h2v13h-2zM139 245h1v13h-1zM184 245h1v13h-1zM259 245h1v13h-1zM275 245h1v13h-1zM312 245h1v13h-1zM336 245h1v13h-1zM340 245h1v13h-1zM350 245h1v13h-1zM356 245h1v13h-1zM445 245h1v13h-1zM467 245h1v13h-1zM475 245h1v13h-1zM485 245h1v13h-1zM499 245h1v13h-1zM504 245h1v13h-1zM517 245h1v13h-1zM522 245h1v13h-1zM530 245h1v13h-1zM553 245h1v13h-1zM127 258h1v13h-1zM149 258h1v13h-1zM157 258h1v13h-1zM162 258h1v13h-1zM168 258h1v13h-1zM224 258h1v13h-1zM279 258h1v13h-1zM289 258h1v13h-1zM303 258h1v13h-1zM305 258h1v13h-1zM307 258h1v13h-1zM361 258h1v13h-1zM404 258h1v13h-1zM446 258h1v13h-1zM451 258h1v13h-1zM469 258h1v13h-1zM510 258h1v13h-1zM564 258h1v13h-1zM568 258h1v13h-1zM571 258h1v13h-1zM138 271h1v13h-1zM140 271h1v13h-1zM162 271h1v13h-1zM168 271h1v13h-1zM176 271h1v13h-1zM184 271h1v13h-1zM200 271h1v13h-1zM273 271h1v13h-1zM297 271h1v13h-1zM302 271h1v13h-1zM305 271h1v13h-1zM319 271h1v13h-1zM322 271h1v13h-1zM376 271h1v13h-1zM379 271h1v13h-1zM391 271h1v13h-1zM399 271h1v13h-1zM401 271h1v13h-1zM446 271h1v13h-1zM477 271h1v13h-1zM501 271h1v13h-1zM508 271h1v13h-1zM523 271h1v13h-1zM553 271h1v13h-1zM561 271h1v13h-1zM148 284h1v14h-1zM155 284h3v14h-3zM159 284h1v14h-1zM224 284h1v14h-1zM261 284h1v14h-1zM299 284h1v14h-1zM334 284h1v14h-1zM389 284h1v14h-1zM479 284h1v14h-1zM495 284h1v14h-1zM510 284h1v14h-1zM517 284h1v14h-1zM529 284h1v14h-1zM556 284h1v14h-1z" fill="rgb(0,237,255)" shape-rendering="crispEdges"/>
<path d="M121 84h1v23h-1zM132 84h1v23h-1zM147 84h1v23h-1zM159 84h1v23h-1zM175 84h1v23h-1zM182 84h1v23h-1zM186 84h1v23h-1zM258 84h2v23h-2zM261 84h2v23h-2zM295 84h1v23h-1zM320 84h1v23h-1zM327 84h1v23h-1zM344 84h1v23h-1zM368 84h1v23h-1zM373 84h1v23h-1zM469 84h1v23h-1zM473 84h1v23h-1zM486 84h2v23h-2zM577 84h1v23h-1zM117 107h1v12h-1zM126 107h1v12h-1zM158 107h1v12h-1zM194 107h1v12h-1zM213 107h1v12h-1zM220 107h1v12h-1zM265 107h1v12h-1zM267 107h1v12h-1zM278 107h1v12h-1zM283 107h2v12h-2zM293 107h1v12h-1zM311 107h1v12h-1zM389 107h1v12h-1zM468 107h1v12h-1zM472 107h1v12h-1zM492 107h1v12h-1zM502 107h1v12h-1zM511 107h1v12h-1zM519 107h1v12h-1zM524 107h1v12h-1zM581 107h2v12h-2zM113 119h1v13h-1zM188 119h1v13h-1zM218 119h1v13h-1zM226 119h1v13h-1zM261 119h1v13h-1zM335 119h1v13h-1zM361 119h1v13h-1zM381 119h1v13h-1zM383 119h1v13h-1zM437 119h1v13h-1zM444 119h1v13h-1zM450 119h1v13h-1zM459 119h1v13h-1zM469 119h1v13h-1zM507 119h1v13h-1zM526 119h1v13h-1zM550 119h1v13h-1zM562 119h1v13h-1zM565 119h1v13h-1zM570 119h1v13h-1zM112 132h1v11h-1zM115 132h1v11h-1zM127 132h1v11h-1zM146 132h1v11h-1zM161 132h1v11h-1zM175 132h2v11h-2zM213 132h1v11h-1zM285 132h1v11h-1zM318 132h1v11h-1zM330 132h1v11h-1zM333 132h1v11h-1zM339 132h1v11h-1zM359 132h1v11h-1zM364 132h1v11h-1zM393 132h1v11h-1zM435 132h1v11h-1zM462 132h1v11h-1zM512 132h1v11h-1zM516 132h1v11h-1zM540 132h1v11h-1zM552 132h1v11h-1zM568 132h1v11h-1zM572 132h1v11h-1zM593 132h1v11h-1zM209 143h1v11h-1zM288 143h1v11h-1zM296 143h2v11h-2zM539 143h1v11h-1zM568 143h1v11h-1zM574 143h1v11h-1zM112 154h1v10h-1zM118 154h2v10h-2zM127 154h2v10h-2zM152 154h1v10h-1zM158 154h2v10h-2zM180 154h1v10h-1zM187 154h1v10h-1zM199 154h1v10h-1zM211 154h1v10h-1zM218 154h1v10h-1zM223 154h1v10h-1zM250 154h1v10h-1zM257 154h1v10h-1zM267 154h1v10h-1zM276 154h1v10h-1zM281 154h1v10h-1zM310 154h1v10h-1zM374 154h1v10h-1zM387 154h1v10h-1zM409 154h1v10h-1zM454 154h1v10h-1zM463 154h1v10h-1zM487 154h1v10h-1zM497 154h1v10h-1zM541 154h1v10h-1zM547 154h1v10h-1zM564 154h1v10h-1zM578 154h1v10h-1zM124 164h1v13h-1zM177 164h1v13h-1zM185 164h1v13h-1zM190 164h1v13h-1zM222 164h2v13h-2zM226 164h1v13h-1zM228 164h1v13h-1zM261 164h2v13h-2zM265 164h1v13h-1zM271 164h1v13h-1zM276 164h1v13h-1zM278 164h1v13h-1zM293 164h1v13h-1zM306 164h1v13h-1zM336 164h1v13h-1zM340 164h1v13h-1zM347 164h1v13h-1zM358 164h1v13h-1zM389 164h1v13h-1zM403 164h1v13h-1zM409 164h1v13h-1zM444 164h1v13h-1zM458 164h1v13h-1zM465 164h1v13h-1zM547 164h1v13h-1zM560 164h1v13h-1zM572 164h1v13h-1zM129 177h1v14h-1zM140 177h1v14h-1zM182 177h1v14h-1zM188 177h1v14h-1zM222 177h1v14h-1zM283 177h1v14h-1zM304 177h1v14h-1zM317 177h1v14h-1zM319 177h2v14h-2zM335 177h1v14h-1zM339 177h1v14h-1zM378 177h1v14h-1zM404 177h1v14h-1zM411 177h1v14h-1zM449 177h1v14h-1zM474 177h1v14h-1zM482 177h1v14h-1zM484 177h1v14h-1zM495 177h1v14h-1zM507 177h1v14h-1zM511 177h1v14h-1zM518 177h1v14h-1zM530 177h1v14h-1zM540 177h1v14h-1zM567 177h1v14h-1zM569 177h1v14h-1zM583 177h1v14h-1zM589 177h1v14h-1zM121 191h1v13h-1zM129 191h1v13h-1zM139 191h1v13h-1zM141 191h1v13h-1zM200 191h1v13h-1zM203 191h1v13h-1zM215 191h1v13h-1zM268 191h1v13h-1zM275 191h1v13h-1zM291 191h1v13h-1zM303 191h1v13h-1zM324 191h1v13h-1zM331 191h1v13h-1zM340 191h1v13h-1zM343 191h1v13h-1zM356 191h2v13h-2zM361 191h2v13h-2zM367 191h1v13h-1zM396 191h1v13h-1zM472 191h1v13h-1zM491 191h1v13h-1zM503 191h1v13h-1zM515 191h1v13h-1zM523 191h1v13h-1zM526 191h1v13h-1zM534 191h1v13h-1zM542 191h1v13h-1zM548 191h1v13h-1zM560 191h1v13h-1zM576 191h1v13h-1zM587 191h1v13h-1zM144 204h1v13h-1zM164 204h1v13h-1zM184 204h1v13h-1zM191 204h1v13h-1zM194 204h1v13h-1zM270 204h1v13h-1zM278 204h1v13h-1zM283 204h1v13h-1zM290 204h1v13h-1zM307 204h1v13h-1zM356 204h1v13h-1zM369 204h1v13h-1zM379 204h1v13h-1zM444 204h1v13h-1zM446 204h1v13h-1zM464 204h1v13h-1zM469 204h1v13h-1zM474 204h1v13h-1zM482 204h1v13h-1zM489 204h1v13h-1zM506 204h1v13h-1zM532 204h1v13h-1zM537 204h1v13h-1zM575 204h1v13h-1zM114 217h1v14h-1zM135 217h1v14h-1zM153 217h1v14h-1zM172 217h1v14h-1zM175 217h1v14h-1zM222 217h1v14h-1zM279 217h1v14h-1zM282 217h1v14h-1zM291 217h1v14h-1zM311 217h1v14h-1zM320 217h1v14h-1zM329 217h1v14h-1zM381 217h1v14h-1zM401 217h1v14h-1zM487 217h1v14h-1zM511 217h1v14h-1zM550 217h1v14h-1zM561 217h1v14h-1zM569 217h1v14h-1zM572 217h1v14h-1zM114 231h1v14h-1zM120 231h1v14h-1zM125 231h1v14h-1zM134 231h1v14h-1zM140 231h1v14h-1zM151 231h1v14h-1zM169 231h1v14h-1zM190 231h1v14h-1zM203 231h1v14h-1zM279 231h1v14h-1zM352 231h1v14h-1zM375 231h1v14h-1zM390 231h2v14h-2zM450 231h1v14h-1zM465 231h1v14h-1zM528 231h2v14h-2zM542 231h1v14h-1zM558 231h1v14h-1zM574 231h1v14h-1zM590 231h1v14h-1z" fill="rgb(0,182,255)" shape-rendering="crispEdges"/>
<path d="M129 84h1v23h-1zM169 84h1v23h-1zM195 84h1v23h-1zM205 84h1v23h-1zM212 84h1v23h-1zM260 84h1v23h-1zM280 84h1v23h-1zM352 84h1v23h-1zM356 84h1v23h-1zM378 84h1v23h-1zM415 84h1v23h-1zM485 84h1v23h-1zM528 84h1v23h-1zM568 84h1v23h-1zM168 107h1v12h-1zM215 107h1v12h-1zM218 107h1v12h-1zM266 107h1v12h-1zM274 107h1v12h-1zM290 107h1v12h-1zM379 107h1v12h-1zM383 107h1v12h-1zM495 107h1v12h-1zM516 107h1v12h-1zM583 107h1v12h-1zM163 119h1v13h-1zM288 119h1v13h-1zM296 119h1v13h-1zM380 119h1v13h-1zM529 119h1v13h-1zM548 119h1v13h-1zM125 132h1v11h-1zM185 132h1v11h-1zM271 132h1v11h-1zM480 132h1v11h-1zM483 132h1v11h-1zM544 132h1v11h-1zM573 132h2v11h-2zM591 132h1v11h-1zM598 132h1v11h-1zM121 164h1v13h-1zM155 164h1v13h-1zM197 164h1v13h-1zM256 164h1v13h-1zM284 164h1v13h-1zM320 164h1v13h-1zM326 164h1v13h-1zM346 164h1v13h-1zM364 164h1v13h-1zM400 164h1v13h-1zM496 164h1v13h-1zM504 164h1v13h-1zM507 164h1v13h-1zM530 164h1v13h-1zM554 164h1v13h-1zM582 164h1v13h-1zM592 164h1v13h-1zM112 177h1v14h-1zM118 177h1v14h-1zM125 177h1v14h-1zM146 177h1v14h-1zM148 177h1v14h-1zM157 177h1v14h-1zM170 177h1v14h-1zM173 177h2v14h-2zM191 177h1v14h-1zM212 177h1v14h-1zM267 177h1v14h-1zM298 177h1v14h-1zM323 177h2v14h-2zM334 177h1v14h-1zM340 177h1v14h-1zM356 177h1v14h-1zM363 177h1v14h-1zM375 177h1v14h-1zM381 177h1v14h-1zM407 177h1v14h-1zM413 177h1v14h-1zM439 177h1v14h-1zM442 177h1v14h-1zM458 177h1v14h-1zM478 177h1v14h-1zM485 177h1v14h-1zM503 177h1v14h-1zM506 177h1v14h-1zM543 177h1v14h-1zM572 177h1v14h-1zM576 177h2v14h-2zM588 177h1v14h-1zM125 191h2v13h-2zM149 191h1v13h-1zM156 191h1v13h-1zM187 191h1v13h-1zM270 191h1v13h-1zM274 191h1v13h-1zM276 191h1v13h-1zM285 191h1v13h-1zM296 191h1v13h-1zM307 191h1v13h-1zM350 191h1v13h-1zM384 191h1v13h-1zM387 191h3v13h-3zM392 191h1v13h-1zM454 191h1v13h-1zM476 191h1v13h-1zM478 191h1v13h-1zM482 191h1v13h-1zM485 191h1v13h-1zM487 191h1v13h-1zM490 191h1v13h-1zM518 191h1v13h-1zM529 191h1v13h-1zM553 191h1v13h-1zM568 191h1v13h-1zM579 191h1v13h-1zM581 191h1v13h-1zM585 191h1v13h-1zM589 191h1v13h-1zM131 204h1v13h-1zM145 204h1v13h-1zM188 204h1v13h-1zM193 204h1v13h-1zM209 204h1v13h-1zM217 204h1v13h-1zM291 204h1v13h-1zM297 204h1v13h-1zM314 204h1v13h-1zM327 204h2v13h-2zM331 204h2v13h-2zM337 204h1v13h-1zM340 204h1v13h-1zM357 204h1v13h-1zM364 204h1v13h-1zM387 204h1v13h-1zM393 204h1v13h-1zM442 204h1v13h-1zM457 204h1v13h-1zM467 204h1v13h-1zM470 204h1v13h-1zM480 204h1v13h-1zM495 204h1v13h-1zM500 204h1v13h-1zM523 204h1v13h-1zM530 204h1v13h-1zM546 204h1v13h-1zM549 204h1v13h-1zM574 204h1v13h-1zM580 204h1v13h-1zM590 204h1v13h-1zM145 217h1v14h-1zM147 217h1v14h-1zM152 217h1v14h-1zM166 217h1v14h-1zM173 217h1v14h-1zM215 217h1v14h-1zM278 217h1v14h-1zM280 217h1v14h-1zM295 217h1v14h-1zM359 217h1v14h-1zM455 217h1v14h-1zM465 217h1v14h-1zM482 217h1v14h-1zM490 217h1v14h-1zM495 217h1v14h-1zM523 217h1v14h-1zM549 217h1v14h-1zM586 217h1v14h-1zM144 231h1v14h-1zM153 231h1v14h-1zM185 231h1v14h-1zM196 231h1v14h-1zM263 231h1v14h-1zM278 231h1v14h-1zM281 231h1v14h-1zM301 231h1v14h-1zM317 231h1v14h-1zM357 231h1v14h-1zM372 231h1v14h-1zM384 231h1v14h-1zM458 231h1v14h-1zM473 231h1v14h-1zM475 231h1v14h-1zM489 231h1v14h-1zM497 231h1v14h-1zM551 231h1v14h-1zM571 231h1v14h-1zM575 231h1v14h-1zM589 231h1v14h-1zM113 245h1v13h-1zM127 245h1v13h-1zM129 245h1v13h-1zM171 245h1v13h-1zM173 245h1v13h-1zM189 245h1v13h-1zM193 245h1v13h-1zM207 245h1v13h-1zM266 245h1v13h-1zM276 245h1v13h-1zM296 245h1v13h-1zM324 245h1v13h-1zM331 245h1v13h-1zM345 245h1v13h-1zM379 245h1v13h-1zM383 245h1v13h-1zM385 245h1v13h-1zM406 245h1v13h-1zM464 245h1v13h-1zM487 245h1v13h-1zM491 245h1v13h-1zM493 245h1v13h-1zM515 245h1v13h-1zM525 245h1v13h-1zM529 245h1v13h-1zM561 245h1v13h-1zM573 245h1v13h-1zM575 245h1v13h-1zM137 258h1v13h-1zM151 258h1v13h-1zM195 258h1v13h-1zM218 258h1v13h-1zM263 258h1v13h-1zM345 258h1v13h-1zM350 258h2v13h-2zM363 258h1v13h-1zM377 258h1v13h-1zM456 258h1v13h-1zM498 258h1v13h-1zM515 258h2v13h-2zM562 258h1v13h-1zM580 258h1v13h-1z" fill="rgb(0,200,255)" shape-rendering="crispEdges"/>
<path d="M236 84h3v23h-3zM437 164h1v13h-1zM438 177h1v14h-1zM254 191h1v13h-1zM257 217h1v14h-1zM112 231h1v14h-1zM126 231h1v14h-1zM149 231h1v14h-1zM167 231h1v14h-1zM197 231h1v14h-1zM312 231h1v14h-1zM342 231h1v14h-1zM443 231h1v14h-1zM446 231h1v14h-1zM491 231h1v14h-1zM516 231h1v14h-1zM534 231h2v14h-2zM572 231h1v14h-1zM578 231h1v14h-1zM121 245h1v13h-1zM132 245h1v13h-1zM157 245h1v13h-1zM168 245h2v13h-2zM208 245h1v13h-1zM211 245h1v13h-1zM265 245h1v13h-1zM270 245h1v13h-1zM294 245h1v13h-1zM308 245h1v13h-1zM318 245h1v13h-1zM334 245h1v13h-1zM346 245h1v13h-1zM371 245h1v13h-1zM384 245h1v13h-1zM395 245h1v13h-1zM404 245h1v13h-1zM488 245h1v13h-1zM526 245h1v13h-1zM551 245h1v13h-1zM564 245h1v13h-1zM578 245h1v13h-1zM581 245h1v13h-1zM133 258h1v13h-1zM156 258h1v13h-1zM169 258h1v13h-1zM173 258h1v13h-1zM193 258h1v13h-1zM197 258h1v13h-1zM209 258h1v13h-1zM259 258h1v13h-1zM314 258h1v13h-1zM318 258h1v13h-1zM334 258h1v13h-1zM340 258h1v13h-1zM362 258h1v13h-1zM379 258h1v13h-1zM400 258h1v13h-1zM406 258h1v13h-1zM445 258h1v13h-1zM501 258h1v13h-1zM525 258h1v13h-1zM531 258h1v13h-1zM565 258h1v13h-1zM578 258h1v13h-1zM115 271h1v13h-1zM124 271h1v13h-1zM130 271h1v13h-1zM144 271h1v13h-1zM178 271h1v13h-1zM186 271h1v13h-1zM264 271h1v13h-1zM277 271h1v13h-1zM286 271h1v13h-1zM335 271h1v13h-1zM342 271h1v13h-1zM365 271h1v13h-1zM371 271h1v13h-1zM386 271h1v13h-1zM393 271h1v13h-1zM473 271h1v13h-1zM485 271h1v13h-1zM520 271h1v13h-1zM524 271h1v13h-1zM530 271h1v13h-1zM542 271h1v13h-1zM555 271h1v13h-1zM141 284h1v14h-1zM149 284h1v14h-1zM153 284h1v14h-1zM181 284h1v14h-1zM188 284h1v14h-1zM201 284h1v14h-1zM203 284h1v14h-1zM208 284h1v14h-1zM214 284h1v14h-1zM218 284h1v14h-1zM268 284h1v14h-1zM348 284h1v14h-1zM371 284h1v14h-1zM467 284h1v14h-1zM476 284h1v14h-1zM485 284h1v14h-1zM519 284h1v14h-1zM524 284h1v14h-1zM547 284h1v14h-1zM553 284h1v14h-1zM588 284h1v14h-1zM121 298h1v15h-1zM124 298h1v15h-1zM150 298h1v15h-1zM198 298h1v15h-1zM213 298h1v15h-1zM285 298h1v15h-1zM301 298h1v15h-1zM335 298h1v15h-1zM341 298h1v15h-1zM360 298h1v15h-1zM504 298h1v15h-1zM524 298h1v15h-1zM540 298h1v15h-1zM562 298h1v15h-1zM568 298h1v15h-1zM588 298h1v15h-1zM156 313h1v20h-1zM213 313h2v20h-2zM262 313h1v20h-1zM279 313h1v20h-1zM354 313h1v20h-1zM367 313h1v20h-1zM370 313h1v20h-1zM448 313h1v20h-1zM472 313h1v20h-1zM483 313h1v20h-1zM514 313h1v20h-1zM537 313h1v20h-1zM555 313h1v20h-1zM564 313h1v20h-1zM573 313h1v20h-1zM585 313h1v20h-1zM171 333h1v11h-1zM269 333h1v11h-1zM334 333h1v11h-1zM392 333h1v11h-1zM506 333h1v11h-1z" fill="rgb(0,255,245)" shape-rendering="crispEdges"/>
<path d="M420 84h1v23h-1zM429 84h1v23h-1zM419 119h1v13h-1zM421 143h1v11h-1zM428 143h1v11h-1zM230 204h1v13h-1zM253 217h1v14h-1zM413 217h1v14h-1zM598 217h1v14h-1zM229 231h1v14h-1zM440 258h1v13h-1zM256 271h1v13h-1zM441 271h1v13h-1zM595 271h1v13h-1zM442 284h1v14h-1zM443 298h1v15h-1zM259 333h1v11h-1zM592 333h1v11h-1z" fill="rgb(0,255,92)" shape-rendering="crispEdges"/>
<path d="M421 84h1v23h-1zM428 84h1v23h-1zM431 84h1v23h-1zM252 191h1v13h-1zM437 191h1v13h-1zM254 204h1v13h-1zM411 231h1v14h-1zM595 231h1v14h-1zM256 245h1v13h-1zM410 245h1v13h-1zM593 271h1v13h-1zM226 284h1v14h-1zM258 284h1v14h-1zM259 298h1v15h-1zM225 313h1v20h-1zM405 313h1v20h-1zM404 333h1v11h-1zM590 333h1v11h-1z" fill="rgb(0,255,153)" shape-rendering="crispEdges"/>
<path d="M430 84h1v23h-1zM418 119h1v13h-1zM233 143h1v11h-1zM434 143h1v11h-1zM243 154h3v10h-3zM435 164h1v13h-1zM231 177h1v14h-1zM253 204h1v13h-1zM413 204h1v13h-1zM229 217h1v14h-1zM438 217h1v14h-1zM597 217h1v14h-1zM439 231h1v14h-1zM596 231h1v14h-1zM228 245h1v13h-1zM440 245h1v13h-1zM256 258h1v13h-1zM227 271h1v13h-1zM594 271h1v13h-1zM408 284h1v14h-1zM258 298h1v15h-1zM407 298h1v15h-1zM259 313h1v20h-1zM445 313h1v20h-1zM225 333h1v11h-1zM446 333h1v11h-1zM591 333h1v11h-1z" fill="rgb(0,255,122)" shape-rendering="crispEdges"/>
<path d="M432 84h1v23h-1zM232 154h1v10h-1zM249 164h1v13h-1zM436 164h1v13h-1zM598 164h1v13h-1zM597 177h1v14h-1zM229 191h1v13h-1zM596 191h1v13h-1zM228 204h1v13h-1zM256 231h1v14h-1zM594 231h1v14h-1zM592 271h1v13h-1zM259 284h1v14h-1zM225 298h1v15h-1zM589 333h1v11h-1z" fill="rgb(0,255,184)" shape-rendering="crispEdges"/>
<path d="M236 107h3v12h-3zM429 107h1v12h-1zM432 107h1v12h-1zM420 119h1v13h-1zM234 132h1v11h-1zM237 132h1v11h-1zM433 132h1v11h-1zM233 154h1v10h-1zM421 164h1v13h-1zM428 164h1v13h-1zM232 177h1v14h-1zM249 177h1v14h-1zM250 191h1v13h-1zM414 204h1v13h-1zM253 231h1v14h-1zM412 245h1v13h-1zM411 258h1v13h-1zM255 271h1v13h-1zM596 271h1v13h-1zM406 333h1v11h-1zM593 333h1v11h-1z" fill="rgb(0,255,61)" shape-rendering="crispEdges"/>
<path d="M419 107h1v12h-1zM421 132h1v11h-1zM428 132h1v11h-1zM238 154h1v10h-1zM251 191h1v13h-1zM414 191h1v13h-1zM436 191h1v13h-1zM254 231h1v14h-1zM412 231h1v14h-1zM597 231h1v14h-1zM411 245h1v13h-1zM596 245h1v13h-1zM228 258h1v13h-1zM227 284h1v14h-1zM594 284h1v14h-1zM226 313h1v20h-1z" fill="rgb(0,255,102)" shape-rendering="crispEdges"/>
<path d="M420 107h1v12h-1zM421 154h1v10h-1zM428 154h1v10h-1zM238 177h1v14h-1zM243 177h1v14h-1zM415 177h1v14h-1zM436 204h1v13h-1zM230 217h1v14h-1zM437 217h1v14h-1zM598 231h1v14h-1zM229 245h1v13h-1zM254 245h1v13h-1zM597 245h1v13h-1zM410 271h1v13h-1zM256 284h1v14h-1zM409 284h1v14h-1zM595 284h1v14h-1zM407 313h1v20h-1zM226 333h1v11h-1z" fill="rgb(0,255,71)" shape-rendering="crispEdges"/>
<path d="M421 107h1v12h-1zM428 107h1v12h-1zM238 132h1v11h-1zM243 143h3v11h-3zM415 164h1v13h-1zM250 177h1v14h-1zM230 191h1v13h-1zM598 191h1v13h-1zM254 217h1v14h-1zM595 245h1v13h-1zM441 258h1v13h-1zM257 271h1v13h-1zM442 271h1v13h-1zM443 284h1v14h-1zM593 284h1v14h-1zM226 298h1v15h-1zM444 298h1v15h-1zM260 333h1v11h-1z" fill="rgb(0,255,133)" shape-rendering="crispEdges"/>
<path d="M430 107h2v12h-2zM236 119h3v13h-3zM429 119h1v13h-1zM432 119h1v13h-1zM235 132h2v11h-2zM234 143h1v11h-1zM237 143h1v11h-1zM421 177h1v14h-1zM428 177h1v14h-1zM231 204h1v13h-1zM251 204h1v13h-1zM438 245h1v13h-1zM254 258h1v13h-1zM596 284h1v14h-1zM256 298h1v15h-1zM257 313h1v20h-1zM444 333h1v11h-1z" fill="rgb(0,255,41)" shape-rendering="crispEdges"/>
<path d="M433 107h1v12h-1zM436 177h1v14h-1zM229 204h1v13h-1zM597 204h1v13h-1zM412 217h1v14h-1zM596 217h1v14h-1zM228 231h1v14h-1zM255 231h1v14h-1zM227 258h1v13h-1zM594 258h1v13h-1zM592 298h1v15h-1zM591 313h1v20h-1z" fill="rgb(0,255,143)" shape-rendering="crispEdges"/>
<path d="M235 119h1v13h-1zM436 154h1v10h-1zM596 154h1v10h-1zM595 177h1v14h-1zM594 191h1v13h-1zM227 204h1v13h-1zM256 204h1v13h-1zM593 217h1v14h-1zM592 231h1v14h-1zM258 245h1v13h-1zM176 258h1v13h-1zM207 258h1v13h-1zM225 258h1v13h-1zM281 258h1v13h-1zM396 258h1v13h-1zM484 258h1v13h-1zM512 258h1v13h-1zM558 258h1v13h-1zM591 258h1v13h-1zM136 271h1v13h-1zM142 271h1v13h-1zM182 271h1v13h-1zM190 271h1v13h-1zM196 271h1v13h-1zM202 271h1v13h-1zM204 271h1v13h-1zM213 271h1v13h-1zM217 271h1v13h-1zM318 271h1v13h-1zM325 271h1v13h-1zM348 271h1v13h-1zM384 271h1v13h-1zM398 271h1v13h-1zM478 271h1v13h-1zM482 271h1v13h-1zM496 271h1v13h-1zM536 271h1v13h-1zM554 271h1v13h-1zM579 271h1v13h-1zM131 284h1v14h-1zM172 284h1v14h-1zM202 284h1v14h-1zM270 284h3v14h-3zM309 284h1v14h-1zM339 284h1v14h-1zM345 284h1v14h-1zM356 284h1v14h-1zM359 284h1v14h-1zM382 284h1v14h-1zM448 284h1v14h-1zM450 284h1v14h-1zM468 284h1v14h-1zM488 284h1v14h-1zM506 284h1v14h-1zM508 284h1v14h-1zM518 284h1v14h-1zM575 284h1v14h-1zM131 298h1v15h-1zM158 298h1v15h-1zM180 298h1v15h-1zM203 298h1v15h-1zM218 298h1v15h-1zM261 298h1v15h-1zM300 298h1v15h-1zM350 298h1v15h-1zM364 298h1v15h-1zM385 298h1v15h-1zM389 298h1v15h-1zM464 298h1v15h-1zM514 298h1v15h-1zM534 298h1v15h-1zM583 298h1v15h-1zM589 298h1v15h-1zM145 313h1v20h-1zM150 313h1v20h-1zM158 313h2v20h-2zM176 313h1v20h-1zM198 313h1v20h-1zM215 313h2v20h-2zM304 313h1v20h-1zM323 313h1v20h-1zM356 313h2v20h-2zM488 313h2v20h-2zM505 313h1v20h-1zM528 313h1v20h-1zM550 313h1v20h-1zM552 313h1v20h-1zM556 313h1v20h-1zM563 313h1v20h-1zM588 313h1v20h-1zM137 333h2v11h-2zM172 333h1v11h-1zM179 333h1v11h-1zM188 333h1v11h-1zM212 333h1v11h-1zM292 333h1v11h-1zM302 333h1v11h-1zM338 333h2v11h-2zM383 333h1v11h-1zM396 333h1v11h-1zM402 333h1v11h-1zM449 333h1v11h-1zM455 333h2v11h-2zM527 333h1v11h-1zM535 333h1v11h-1zM557 333h1v11h-1zM586 333h1v11h-1z" fill="rgb(0,255,235)" shape-rendering="crispEdges"/>
<path d="M421 119h1v13h-1zM428 119h1v13h-1zM433 119h1v13h-1zM238 143h1v11h-1zM232 164h1v13h-1zM437 204h1v13h-1zM598 204h1v13h-1zM255 245h1v13h-1zM410 258h1v13h-1zM595 258h1v13h-1zM409 271h1v13h-1zM257 284h1v14h-1zM593 298h1v15h-1zM406 313h1v20h-1zM592 313h1v20h-1zM405 333h1v11h-1z" fill="rgb(0,255,112)" shape-rendering="crispEdges"/>
<path d="M430 119h2v13h-2zM235 143h2v11h-2zM417 143h1v11h-1zM420 143h1v11h-1zM429 143h1v11h-1zM432 143h1v11h-1zM233 164h1v13h-1zM416 164h1v13h-1zM435 204h1v13h-1zM252 231h1v14h-1zM230 245h1v13h-1zM412 258h1v13h-1zM254 271h1v13h-1zM411 271h1v13h-1zM441 298h1v15h-1zM596 298h1v15h-1zM595 313h1v20h-1zM227 333h1v11h-1zM407 333h1v11h-1z" fill="rgb(0,255,20)" shape-rendering="crispEdges"/>
<path d="M417 132h1v11h-1zM420 132h1v11h-1zM429 132h1v11h-1zM432 132h1v11h-1zM433 143h1v11h-1zM234 154h1v10h-1zM237 154h1v10h-1zM434 177h1v14h-1zM232 191h1v13h-1zM415 191h1v13h-1zM421 191h1v13h-1zM428 191h1v13h-1zM238 204h1v13h-1zM243 204h1v13h-1zM231 217h1v14h-1zM414 217h1v14h-1zM436 217h1v14h-1zM437 231h1v14h-1zM253 245h1v13h-1zM598 258h1v13h-1zM229 271h1v13h-1zM597 271h1v13h-1zM255 284h1v14h-1zM410 284h1v14h-1zM228 298h1v15h-1zM409 298h1v15h-1zM408 313h1v20h-1zM594 333h1v11h-1z" fill="rgb(0,255,31)" shape-rendering="crispEdges"/>
<path d="M418 132h2v11h-2zM430 132h2v11h-2zM235 154h2v10h-2zM433 154h1v10h-1zM234 164h1v13h-1zM237 164h1v13h-1zM244 164h1v13h-1zM247 164h1v13h-1zM249 191h1v13h-1zM421 204h1v13h-1zM428 204h1v13h-1zM238 217h1v14h-1zM243 217h1v14h-1zM251 217h1v14h-1zM413 245h1v13h-1zM439 271h1v13h-1zM440 284h1v14h-1zM597 284h1v14h-1zM442 313h1v20h-1zM257 333h1v11h-1zM443 333h1v11h-1z" fill="rgb(0,255,10)" shape-rendering="crispEdges"/>
<path d="M434 132h1v11h-1zM413 191h1v13h-1zM595 217h1v14h-1zM227 245h1v13h-1zM442 258h1v13h-1zM593 258h1v13h-1zM226 271h1v13h-1zM258 271h1v13h-1zM443 271h1v13h-1zM444 284h1v14h-1zM445 298h1v15h-1zM591 298h1v15h-1zM590 313h1v20h-1zM224 333h1v11h-1zM261 333h1v11h-1z" fill="rgb(0,255,173)" shape-rendering="crispEdges"/>
<path d="M246 143h1v11h-1zM246 154h2v10h-2zM439 191h1v13h-1zM440 204h1v13h-1zM148 217h1v14h-1zM171 217h1v14h-1zM374 217h1v14h-1zM441 217h1v14h-1zM458 217h1v14h-1zM533 217h1v14h-1zM584 217h1v14h-1zM141 231h1v14h-1zM154 231h1v14h-1zM160 231h1v14h-1zM213 231h1v14h-1zM221 231h1v14h-1zM225 231h1v14h-1zM258 231h1v14h-1zM264 231h2v14h-2zM283 231h1v14h-1zM326 231h1v14h-1zM380 231h1v14h-1zM406 231h1v14h-1zM442 231h1v14h-1zM452 231h1v14h-1zM468 231h1v14h-1zM472 231h1v14h-1zM487 231h1v14h-1zM527 231h1v14h-1zM531 231h1v14h-1zM552 231h1v14h-1zM148 245h1v13h-1zM167 245h1v13h-1zM267 245h1v13h-1zM301 245h1v13h-1zM322 245h1v13h-1zM382 245h1v13h-1zM397 245h1v13h-1zM443 245h1v13h-1zM474 245h1v13h-1zM476 245h1v13h-1zM479 245h1v13h-1zM514 245h1v13h-1zM538 245h1v13h-1zM545 245h1v13h-1zM547 245h1v13h-1zM116 258h1v13h-1zM130 258h1v13h-1zM150 258h1v13h-1zM153 258h1v13h-1zM182 258h1v13h-1zM189 258h1v13h-1zM212 258h1v13h-1zM292 258h1v13h-1zM315 258h1v13h-1zM332 258h1v13h-1zM359 258h1v13h-1zM364 258h1v13h-1zM393 258h1v13h-1zM444 258h1v13h-1zM473 258h1v13h-1zM494 258h1v13h-1zM527 258h1v13h-1zM545 258h1v13h-1zM556 258h1v13h-1zM590 258h1v13h-1zM129 271h1v13h-1zM147 271h1v13h-1zM167 271h1v13h-1zM177 271h1v13h-1zM215 271h1v13h-1zM224 271h1v13h-1zM260 271h1v13h-1zM270 271h1v13h-1zM285 271h1v13h-1zM301 271h1v13h-1zM340 271h1v13h-1zM344 271h1v13h-1zM359 271h1v13h-1zM380 271h1v13h-1zM385 271h1v13h-1zM395 271h1v13h-1zM445 271h1v13h-1zM449 271h1v13h-1zM451 271h1v13h-1zM471 271h1v13h-1zM497 271h1v13h-1zM548 271h1v13h-1zM556 271h1v13h-1zM563 271h1v13h-1zM573 271h1v13h-1zM582 271h1v13h-1zM586 271h1v13h-1zM588 271h1v13h-1zM112 284h1v14h-1zM114 284h1v14h-1zM121 284h1v14h-1zM135 284h1v14h-1zM147 284h1v14h-1zM176 284h1v14h-1zM190 284h1v14h-1zM267 284h1v14h-1zM276 284h1v14h-1zM355 284h1v14h-1zM360 284h1v14h-1zM446 284h1v14h-1zM511 284h2v14h-2zM539 284h1v14h-1zM566 284h1v14h-1zM129 298h1v15h-1zM362 298h1v15h-1zM365 298h1v15h-1zM447 298h1v15h-1zM454 298h1v15h-1zM460 298h1v15h-1zM472 298h1v15h-1zM478 298h1v15h-1zM580 298h1v15h-1zM263 333h1v11h-1z" fill="rgb(0,255,255)" shape-rendering="crispEdges"/>
<path d="M418 143h2v11h-2zM430 143h2v11h-2zM417 154h1v10h-1zM420 154h1v10h-1zM429 154h1v10h-1zM432 154h1v10h-1zM233 177h2v14h-2zM237 177h1v14h-1zM244 177h1v14h-1zM247 177h2v14h-2zM434 191h1v13h-1zM232 204h1v13h-1zM250 204h1v13h-1zM415 204h1v13h-1zM421 217h1v14h-1zM428 217h1v14h-1zM231 231h1v14h-1zM414 231h1v14h-1zM437 245h1v13h-1zM230 258h1v13h-1zM253 258h1v13h-1zM438 258h1v13h-1zM598 271h1v13h-1zM229 284h1v14h-1zM255 298h1v15h-1zM228 313h1v20h-1zM256 313h1v20h-1zM595 333h1v11h-1z" fill="rgb(0,255,0)" shape-rendering="crispEdges"/>
<path d="M435 143h1v11h-1zM597 154h1v10h-1zM595 191h1v13h-1zM227 217h1v14h-1zM257 231h1v14h-1zM593 231h1v14h-1zM226 245h1v13h-1zM443 258h1v13h-1zM259 271h1v13h-1zM444 271h1v13h-1zM591 271h1v13h-1zM116 284h1v14h-1zM129 284h1v14h-1zM180 284h1v14h-1zM182 284h1v14h-1zM184 284h1v14h-1zM269 284h1v14h-1zM273 284h1v14h-1zM329 284h1v14h-1zM367 284h1v14h-1zM369 284h1v14h-1zM378 284h1v14h-1zM406 284h1v14h-1zM445 284h1v14h-1zM477 284h1v14h-1zM514 284h1v14h-1zM516 284h1v14h-1zM537 284h1v14h-1zM576 284h1v14h-1zM120 298h1v15h-1zM130 298h1v15h-1zM189 298h1v15h-1zM199 298h1v15h-1zM215 298h1v15h-1zM281 298h1v15h-1zM366 298h1v15h-1zM371 298h1v15h-1zM446 298h1v15h-1zM452 298h1v15h-1zM493 298h1v15h-1zM500 298h1v15h-1zM535 298h1v15h-1zM537 298h1v15h-1zM541 298h1v15h-1zM549 298h1v15h-1zM148 313h1v20h-1zM182 313h1v20h-1zM189 313h1v20h-1zM285 313h1v20h-1zM294 313h1v20h-1zM331 313h1v20h-1zM365 313h1v20h-1zM495 313h1v20h-1zM515 313h1v20h-1zM531 313h1v20h-1zM546 313h1v20h-1zM553 313h1v20h-1zM116 333h1v11h-1zM140 333h1v11h-1zM158 333h3v11h-3zM195 333h1v11h-1zM262 333h1v11h-1zM295 333h1v11h-1zM305 333h1v11h-1zM323 333h1v11h-1zM376 333h1v11h-1zM457 333h1v11h-1zM478 333h1v11h-1zM490 333h1v11h-1zM501 333h1v11h-1zM512 333h1v11h-1zM517 333h1v11h-1zM551 333h1v11h-1zM574 333h1v11h-1zM579 333h1v11h-1zM588 333h1v11h-1z" fill="rgb(0,255,214)" shape-rendering="crispEdges"/>
<path d="M416 154h1v10h-1zM248 164h1v13h-1zM434 164h1v13h-1zM238 191h1v13h-1zM243 191h1v13h-1zM435 191h1v13h-1zM252 217h1v14h-1zM230 231h1v14h-1zM413 231h1v14h-1zM598 245h1v13h-1zM229 258h1v13h-1zM439 258h1v13h-1zM597 258h1v13h-1zM440 271h1v13h-1zM228 284h1v14h-1zM441 284h1v14h-1zM442 298h1v15h-1zM595 298h1v15h-1zM227 313h1v20h-1zM443 313h1v20h-1zM594 313h1v20h-1zM258 333h1v11h-1z" fill="rgb(0,255,51)" shape-rendering="crispEdges"/>
<path d="M418 154h2v10h-2zM430 154h2v10h-2zM235 177h2v14h-2zM245 177h2v14h-2zM234 191h1v13h-1zM237 191h1v13h-1zM244 191h1v13h-1zM247 191h1v13h-1zM434 204h1v13h-1zM232 217h1v14h-1zM415 217h1v14h-1zM251 231h1v14h-1zM421 231h1v14h-1zM428 231h1v14h-1zM231 245h1v13h-1zM238 245h1v13h-1zM243 245h1v13h-1zM230 271h1v13h-1zM253 271h1v13h-1zM412 271h1v13h-1zM439 284h1v14h-1zM598 284h1v14h-1zM229 298h1v15h-1zM440 298h1v15h-1zM409 313h1v20h-1zM408 333h1v11h-1z" fill="rgb(38,255,0)" shape-rendering="crispEdges"/>
<path d="M434 154h1v10h-1zM238 164h1v13h-1zM243 164h1v13h-1zM435 177h1v14h-1zM231 191h1v13h-1zM252 204h1v13h-1zM438 231h1v14h-1zM439 245h1v13h-1zM255 258h1v13h-1zM596 258h1v13h-1zM228 271h1v13h-1zM227 298h1v15h-1zM257 298h1v15h-1zM408 298h1v15h-1zM594 298h1v15h-1zM258 313h1v20h-1zM444 313h1v20h-1zM593 313h1v20h-1zM445 333h1v11h-1z" fill="rgb(0,255,82)" shape-rendering="crispEdges"/>
<path d="M435 154h1v10h-1zM414 177h1v14h-1zM598 177h1v14h-1zM597 191h1v13h-1zM438 204h1v13h-1zM596 204h1v13h-1zM228 217h1v14h-1zM255 217h1v14h-1zM439 217h1v14h-1zM440 231h1v14h-1zM441 245h1v13h-1zM594 245h1v13h-1zM257 258h1v13h-1zM409 258h1v13h-1zM408 271h1v13h-1zM407 284h1v14h-1zM592 284h1v14h-1zM406 298h1v15h-1zM260 313h1v20h-1zM446 313h1v20h-1zM447 333h1v11h-1z" fill="rgb(0,255,163)" shape-rendering="crispEdges"/>
<path d="M598 154h1v10h-1zM231 164h1v13h-1zM230 177h1v14h-1zM251 177h1v14h-1zM437 177h1v14h-1zM253 191h1v13h-1zM255 204h1v13h-1zM412 204h1v13h-1zM595 204h1v13h-1zM411 217h1v14h-1zM227 231h1v14h-1zM257 245h1v13h-1zM593 245h1v13h-1zM226 258h1v13h-1zM591 284h1v14h-1zM260 298h1v15h-1zM404 313h1v20h-1zM175 333h1v11h-1zM218 333h1v11h-1zM279 333h1v11h-1zM403 333h1v11h-1zM448 333h1v11h-1zM500 333h1v11h-1zM508 333h1v11h-1z" fill="rgb(0,255,194)" shape-rendering="crispEdges"/>
<path d="M235 164h2v13h-2zM245 164h2v13h-2zM417 164h1v13h-1zM420 164h1v13h-1zM429 164h1v13h-1zM432 164h2v13h-2zM416 177h1v14h-1zM435 217h1v14h-1zM238 231h1v14h-1zM243 231h1v14h-1zM436 231h1v14h-1zM252 245h1v13h-1zM254 284h1v14h-1zM411 284h1v14h-1zM410 298h1v15h-1zM597 298h1v15h-1zM596 313h1v20h-1z" fill="rgb(19,255,0)" shape-rendering="crispEdges"/>
<path d="M418 164h2v13h-2zM430 164h2v13h-2zM417 177h1v14h-1zM420 177h1v14h-1zM429 177h1v14h-1zM432 177h2v14h-2zM233 191h1v13h-1zM248 191h1v13h-1zM244 204h1v13h-1zM248 204h1v13h-1zM250 217h1v14h-1zM252 258h1v13h-1zM413 258h1v13h-1zM438 271h1v13h-1zM441 313h1v20h-1zM228 333h1v11h-1zM256 333h1v11h-1zM442 333h1v11h-1zM596 333h1v11h-1z" fill="rgb(58,255,0)" shape-rendering="crispEdges"/>
<path d="M596 164h1v13h-1zM594 204h1v13h-1zM592 245h1v13h-1zM225 271h1v13h-1zM142 284h1v14h-1zM163 284h1v14h-1zM175 284h1v14h-1zM189 284h1v14h-1zM260 284h1v14h-1zM264 284h1v14h-1zM266 284h1v14h-1zM298 284h1v14h-1zM346 284h1v14h-1zM385 284h1v14h-1zM499 284h2v14h-2zM513 284h1v14h-1zM536 284h1v14h-1zM590 284h1v14h-1zM290 298h1v15h-1zM302 298h1v15h-1zM305 298h1v15h-1zM324 298h1v15h-1zM390 298h1v15h-1zM494 298h1v15h-1zM521 298h1v15h-1zM152 313h1v20h-1zM164 313h1v20h-1zM177 313h1v20h-1zM208 313h2v20h-2zM320 313h1v20h-1zM328 313h1v20h-1zM341 313h1v20h-1zM364 313h1v20h-1zM458 313h1v20h-1zM462 313h1v20h-1zM468 313h1v20h-1zM535 313h1v20h-1zM575 313h1v20h-1zM123 333h1v11h-1zM146 333h1v11h-1zM149 333h1v11h-1zM152 333h1v11h-1zM184 333h1v11h-1zM198 333h1v11h-1zM201 333h1v11h-1zM221 333h1v11h-1zM223 333h1v11h-1zM274 333h1v11h-1zM306 333h1v11h-1zM370 333h1v11h-1zM373 333h1v11h-1zM389 333h2v11h-2zM454 333h1v11h-1zM462 333h1v11h-1zM476 333h1v11h-1zM489 333h1v11h-1zM509 333h1v11h-1zM587 333h1v11h-1z" fill="rgb(0,255,224)" shape-rendering="crispEdges"/>
<path d="M597 164h1v13h-1zM596 177h1v14h-1zM438 191h1v13h-1zM439 204h1v13h-1zM256 217h1v14h-1zM440 217h1v14h-1zM594 217h1v14h-1zM410 231h1v14h-1zM441 231h1v14h-1zM409 245h1v13h-1zM442 245h1v13h-1zM258 258h1v13h-1zM408 258h1v13h-1zM592 258h1v13h-1zM407 271h1v13h-1zM225 284h1v14h-1zM132 298h1v15h-1zM136 298h1v15h-1zM166 298h1v15h-1zM223 298h1v15h-1zM334 298h1v15h-1zM349 298h1v15h-1zM405 298h1v15h-1zM479 298h1v15h-1zM486 298h1v15h-1zM519 298h1v15h-1zM590 298h1v15h-1zM121 313h1v20h-1zM194 313h1v20h-1zM224 313h1v20h-1zM261 313h1v20h-1zM265 313h1v20h-1zM327 313h1v20h-1zM342 313h1v20h-1zM447 313h1v20h-1zM454 313h2v20h-2zM527 313h1v20h-1zM530 313h1v20h-1zM542 313h1v20h-1zM566 313h1v20h-1zM589 313h1v20h-1zM121 333h1v11h-1zM139 333h1v11h-1zM309 333h1v11h-1zM341 333h1v11h-1zM362 333h1v11h-1zM368 333h1v11h-1zM399 333h1v11h-1zM401 333h1v11h-1zM495 333h1v11h-1z" fill="rgb(0,255,204)" shape-rendering="crispEdges"/>
<path d="M418 177h2v14h-2zM430 177h2v14h-2zM433 191h1v13h-1zM233 204h1v13h-1zM245 204h1v13h-1zM247 204h1v13h-1zM244 217h1v14h-1zM248 217h1v14h-1zM415 231h1v14h-1zM435 231h1v14h-1zM251 245h1v13h-1zM231 258h1v13h-1zM421 258h1v13h-1zM428 258h1v13h-1zM230 284h1v14h-1zM253 284h1v14h-1zM411 298h1v15h-1zM229 313h1v20h-1z" fill="rgb(96,255,0)" shape-rendering="crispEdges"/>
<path d="M128 191h1v13h-1zM143 191h2v13h-2zM170 191h1v13h-1zM217 191h1v13h-1zM280 191h1v13h-1zM284 191h1v13h-1zM309 191h1v13h-1zM323 191h1v13h-1zM330 191h1v13h-1zM346 191h1v13h-1zM355 191h1v13h-1zM376 191h2v13h-2zM394 191h2v13h-2zM403 191h1v13h-1zM445 191h1v13h-1zM456 191h1v13h-1zM459 191h1v13h-1zM461 191h1v13h-1zM499 191h1v13h-1zM507 191h1v13h-1zM510 191h1v13h-1zM538 191h2v13h-2zM128 204h1v13h-1zM168 204h1v13h-1zM178 204h1v13h-1zM257 204h3v13h-3zM281 204h1v13h-1zM300 204h1v13h-1zM315 204h1v13h-1zM339 204h1v13h-1zM347 204h1v13h-1zM366 204h1v13h-1zM397 204h2v13h-2zM450 204h1v13h-1zM459 204h1v13h-1zM466 204h1v13h-1zM477 204h1v13h-1zM514 204h1v13h-1zM516 204h1v13h-1zM519 204h2v13h-2zM547 204h1v13h-1zM581 204h1v13h-1zM143 217h1v14h-1zM167 217h1v14h-1zM204 217h1v14h-1zM211 217h1v14h-1zM287 217h1v14h-1zM293 217h1v14h-1zM343 217h1v14h-1zM349 217h1v14h-1zM358 217h1v14h-1zM373 217h1v14h-1zM395 217h1v14h-1zM402 217h1v14h-1zM407 217h1v14h-1zM409 217h1v14h-1zM483 217h1v14h-1zM517 217h1v14h-1zM542 217h1v14h-1zM582 217h1v14h-1zM588 217h1v14h-1zM133 231h1v14h-1zM193 231h1v14h-1zM198 231h1v14h-1zM206 231h1v14h-1zM220 231h1v14h-1zM226 231h1v14h-1zM270 231h1v14h-1zM285 231h1v14h-1zM289 231h2v14h-2zM308 231h1v14h-1zM318 231h2v14h-2zM327 231h1v14h-1zM331 231h1v14h-1zM341 231h1v14h-1zM347 231h1v14h-1zM374 231h1v14h-1zM379 231h1v14h-1zM381 231h1v14h-1zM385 231h1v14h-1zM387 231h1v14h-1zM408 231h1v14h-1zM459 231h1v14h-1zM462 231h1v14h-1zM464 231h1v14h-1zM501 231h1v14h-1zM505 231h1v14h-1zM515 231h1v14h-1zM556 231h1v14h-1zM563 231h1v14h-1zM587 231h2v14h-2zM122 245h1v13h-1zM146 245h2v13h-2zM182 245h1v13h-1zM185 245h1v13h-1zM188 245h1v13h-1zM201 245h1v13h-1zM206 245h1v13h-1zM213 245h1v13h-1zM263 245h1v13h-1zM282 245h2v13h-2zM289 245h1v13h-1zM303 245h1v13h-1zM326 245h1v13h-1zM339 245h1v13h-1zM367 245h1v13h-1zM388 245h1v13h-1zM391 245h1v13h-1zM399 245h1v13h-1zM402 245h1v13h-1zM465 245h1v13h-1zM478 245h1v13h-1zM480 245h1v13h-1zM496 245h2v13h-2zM513 245h1v13h-1zM534 245h1v13h-1zM536 245h1v13h-1zM542 245h1v13h-1zM552 245h1v13h-1zM566 245h1v13h-1zM587 245h1v13h-1zM216 258h1v13h-1zM284 258h1v13h-1zM313 258h1v13h-1zM323 258h1v13h-1zM331 258h1v13h-1zM382 258h1v13h-1zM384 258h1v13h-1zM386 258h1v13h-1zM458 258h1v13h-1zM464 258h1v13h-1zM483 258h1v13h-1zM530 258h1v13h-1zM587 258h1v13h-1zM112 271h1v13h-1zM123 271h1v13h-1zM133 271h1v13h-1zM145 271h1v13h-1zM153 271h1v13h-1zM192 271h1v13h-1zM198 271h1v13h-1zM284 271h1v13h-1zM316 271h1v13h-1zM355 271h1v13h-1zM362 271h1v13h-1zM367 271h1v13h-1zM375 271h1v13h-1zM387 271h1v13h-1zM491 271h2v13h-2zM517 271h3v13h-3zM450 333h1v11h-1z" fill="rgb(0,219,255)" shape-rendering="crispEdges"/>
<path d="M235 191h2v13h-2zM245 191h2v13h-2zM416 191h2v13h-2zM420 191h1v13h-1zM429 191h1v13h-1zM432 191h1v13h-1zM234 204h1v13h-1zM237 204h1v13h-1zM249 204h1v13h-1zM232 231h1v14h-1zM414 245h1v13h-1zM421 245h1v13h-1zM428 245h1v13h-1zM436 245h1v13h-1zM238 258h1v13h-1zM243 258h1v13h-1zM437 258h1v13h-1zM254 298h1v15h-1zM598 298h1v15h-1zM255 313h1v20h-1zM597 313h1v20h-1z" fill="rgb(77,255,0)" shape-rendering="crispEdges"/>
<path d="M418 191h2v13h-2zM430 191h2v13h-2zM235 204h2v13h-2zM416 204h2v13h-2zM420 204h1v13h-1zM429 204h1v13h-1zM432 204h1v13h-1zM234 217h1v14h-1zM237 217h1v14h-1zM249 217h1v14h-1zM434 217h1v14h-1zM244 231h1v14h-1zM250 231h1v14h-1zM238 271h1v13h-1zM243 271h1v13h-1zM252 271h1v13h-1zM413 271h1v13h-1zM412 284h1v14h-1zM438 284h1v14h-1zM439 298h1v15h-1zM410 313h1v20h-1zM409 333h1v11h-1zM597 333h1v11h-1z" fill="rgb(115,255,0)" shape-rendering="crispEdges"/>
<path d="M246 204h1v13h-1zM433 204h1v13h-1zM233 217h1v14h-1zM245 217h1v14h-1zM247 217h1v14h-1zM417 217h1v14h-1zM420 217h1v14h-1zM429 217h1v14h-1zM237 231h1v14h-1zM248 231h1v14h-1zM232 245h1v13h-1zM251 258h1v13h-1zM231 271h1v13h-1zM421 271h1v13h-1zM428 271h1v13h-1zM437 271h1v13h-1zM230 298h1v15h-1zM440 313h1v20h-1zM598 313h1v20h-1zM255 333h1v11h-1zM441 333h1v11h-1z" fill="rgb(134,255,0)" shape-rendering="crispEdges"/>
<path d="M418 204h2v13h-2zM430 204h2v13h-2zM235 217h2v14h-2zM416 217h1v14h-1zM432 217h1v14h-1zM234 231h1v14h-1zM245 231h1v14h-1zM429 231h1v14h-1zM433 231h1v14h-1zM244 245h1v13h-1zM250 245h1v13h-1zM435 245h1v13h-1zM414 258h1v13h-1zM436 258h1v13h-1zM238 284h1v14h-1zM243 284h1v14h-1zM421 284h1v14h-1zM428 284h1v14h-1zM253 298h1v15h-1zM254 313h1v20h-1zM229 333h1v11h-1z" fill="rgb(153,255,0)" shape-rendering="crispEdges"/>
<path d="M246 217h1v14h-1zM418 217h2v14h-2zM430 217h1v14h-1zM233 231h1v14h-1zM236 231h1v14h-1zM247 231h1v14h-1zM249 231h1v14h-1zM417 231h1v14h-1zM420 231h1v14h-1zM434 231h1v14h-1zM237 245h1v13h-1zM248 245h1v13h-1zM415 245h1v13h-1zM429 245h1v13h-1zM232 258h1v13h-1zM244 258h1v13h-1zM249 258h1v13h-1zM231 284h1v14h-1zM252 284h1v14h-1z" fill="rgb(173,255,0)" shape-rendering="crispEdges"/>
<path d="M431 217h1v14h-1zM433 217h1v14h-1zM235 231h1v14h-1zM246 231h1v14h-1zM416 231h1v14h-1zM430 231h1v14h-1zM432 231h1v14h-1zM234 245h1v13h-1zM245 245h1v13h-1zM420 245h1v13h-1zM433 245h1v13h-1zM429 258h1v13h-1zM434 258h1v13h-1zM251 271h1v13h-1zM413 284h1v14h-1zM437 284h1v14h-1zM238 298h1v15h-1zM243 298h1v15h-1zM412 298h1v15h-1zM421 298h1v15h-1zM428 298h1v15h-1zM438 298h1v15h-1zM230 313h1v20h-1zM411 313h1v20h-1zM439 313h1v20h-1zM410 333h1v11h-1zM440 333h1v11h-1zM598 333h1v11h-1z" fill="rgb(192,255,0)" shape-rendering="crispEdges"/>
<path d="M418 231h2v14h-2zM236 245h1v13h-1zM247 245h1v13h-1zM417 245h1v13h-1zM430 245h1v13h-1zM237 258h1v13h-1zM245 258h1v13h-1zM248 258h1v13h-1zM250 258h1v13h-1zM416 258h1v13h-1zM420 258h1v13h-1zM244 271h1v13h-1zM249 271h1v13h-1zM414 271h1v13h-1zM429 271h1v13h-1zM436 271h1v13h-1zM254 333h1v11h-1z" fill="rgb(211,255,0)" shape-rendering="crispEdges"/>
<path d="M431 231h1v14h-1zM233 245h1v13h-1zM235 245h1v13h-1zM246 245h1v13h-1zM249 245h1v13h-1zM419 245h1v13h-1zM432 245h1v13h-1zM234 258h1v13h-1zM415 258h1v13h-1zM430 258h1v13h-1zM433 258h1v13h-1zM435 258h1v13h-1zM232 271h2v13h-2zM237 271h1v13h-1zM420 271h1v13h-1zM434 271h1v13h-1zM244 284h1v14h-1zM231 298h1v15h-1zM252 298h1v15h-1zM238 313h1v20h-1zM243 313h1v20h-1zM253 313h1v20h-1zM421 313h1v20h-1zM428 313h1v20h-1z" fill="rgb(230,255,0)" shape-rendering="crispEdges"/>
<path d="M416 245h1v13h-1zM418 245h1v13h-1zM431 245h1v13h-1zM434 245h1v13h-1zM236 258h1v13h-1zM246 258h2v13h-2zM417 258h1v13h-1zM419 258h1v13h-1zM245 271h1v13h-1zM248 271h1v13h-1zM416 271h1v13h-1zM430 271h1v13h-1zM249 284h1v14h-1zM251 284h1v14h-1zM415 284h1v14h-1zM420 284h1v14h-1zM429 284h1v14h-1zM230 333h1v11h-1z" fill="rgb(249,255,0)" shape-rendering="crispEdges"/>
<path d="M233 258h1v13h-1zM235 258h1v13h-1zM431 258h2v13h-2zM234 271h1v13h-1zM236 271h1v13h-1zM250 271h1v13h-1zM419 271h1v13h-1zM433 271h1v13h-1zM232 284h2v14h-2zM237 284h1v14h-1zM245 284h1v14h-1zM414 284h1v14h-1zM434 284h1v14h-1zM436 284h1v14h-1zM244 298h1v15h-1zM250 298h1v15h-1zM413 298h1v15h-1zM429 298h1v15h-1zM437 298h1v15h-1zM412 313h1v20h-1zM438 313h1v20h-1zM238 333h1v11h-1zM243 333h1v11h-1zM411 333h1v11h-1zM421 333h1v11h-1zM428 333h1v11h-1zM439 333h1v11h-1z" fill="rgb(255,250,0)" shape-rendering="crispEdges"/>
<path d="M418 258h1v13h-1zM246 271h2v13h-2zM415 271h1v13h-1zM417 271h1v13h-1zM431 271h1v13h-1zM435 271h1v13h-1zM248 284h1v14h-1zM416 284h1v14h-1zM419 284h1v14h-1zM430 284h1v14h-1zM237 298h1v15h-1zM420 298h1v15h-1zM435 298h1v15h-1zM244 313h1v20h-1zM429 313h1v20h-1zM253 333h1v11h-1z" fill="rgb(255,243,0)" shape-rendering="crispEdges"/>
<path d="M235 271h1v13h-1zM418 271h1v13h-1zM432 271h1v13h-1zM234 284h1v14h-1zM236 284h1v14h-1zM246 284h1v14h-1zM433 284h1v14h-1zM233 298h1v15h-1zM245 298h1v15h-1zM249 298h1v15h-1zM251 298h1v15h-1zM415 298h1v15h-1zM430 298h1v15h-1zM231 313h1v20h-1zM252 313h1v20h-1zM414 313h1v20h-1zM420 313h1v20h-1zM429 333h1v11h-1z" fill="rgb(255,236,0)" shape-rendering="crispEdges"/>
<path d="M235 284h1v14h-1zM432 284h1v14h-1zM435 284h1v14h-1zM234 298h1v15h-1zM246 298h1v15h-1zM248 298h1v15h-1zM414 298h1v15h-1zM416 298h1v15h-1zM431 298h1v15h-1zM436 298h1v15h-1zM233 313h1v20h-1zM237 313h1v20h-1zM413 313h1v20h-1zM415 313h1v20h-1zM419 313h1v20h-1zM437 313h1v20h-1zM231 333h1v11h-1zM412 333h1v11h-1zM430 333h1v11h-1zM436 333h1v11h-1zM438 333h1v11h-1z" fill="rgb(255,222,0)" shape-rendering="crispEdges"/>
<path d="M247 284h1v14h-1zM250 284h1v14h-1zM417 284h2v14h-2zM431 284h1v14h-1zM232 298h1v15h-1zM236 298h1v15h-1zM419 298h1v15h-1zM434 298h1v15h-1zM245 313h1v20h-1zM250 313h1v20h-1zM430 313h1v20h-1zM435 313h1v20h-1zM244 333h1v11h-1zM420 333h1v11h-1z" fill="rgb(255,229,0)" shape-rendering="crispEdges"/>
<path d="M235 298h1v15h-1zM418 298h1v15h-1zM433 298h1v15h-1zM246 313h1v20h-1zM249 313h1v20h-1zM431 313h1v20h-1zM434 313h1v20h-1zM237 333h1v11h-1zM245 333h1v11h-1zM250 333h1v11h-1zM252 333h1v11h-1zM414 333h1v11h-1zM419 333h1v11h-1z" fill="rgb(255,215,0)" shape-rendering="crispEdges"/>
<path d="M247 298h1v15h-1zM417 298h1v15h-1zM432 298h1v15h-1zM234 313h1v20h-1zM236 313h1v20h-1zM251 313h1v20h-1zM416 313h1v20h-1zM418 313h1v20h-1zM431 333h1v11h-1zM435 333h1v11h-1z" fill="rgb(255,208,0)" shape-rendering="crispEdges"/>
<path d="M232 313h1v20h-1zM247 313h2v20h-2zM432 313h2v20h-2zM233 333h1v11h-1zM236 333h1v11h-1zM246 333h1v11h-1zM249 333h1v11h-1zM415 333h1v11h-1zM418 333h1v11h-1z" fill="rgb(255,201,0)" shape-rendering="crispEdges"/>
<path d="M235 313h1v20h-1zM417 313h1v20h-1zM436 313h1v20h-1zM413 333h1v11h-1zM432 333h1v11h-1zM434 333h1v11h-1zM437 333h1v11h-1z" fill="rgb(255,195,0)" shape-rendering="crispEdges"/>
<path d="M232 333h1v11h-1zM433 333h1v11h-1z" fill="rgb(255,181,0)" shape-rendering="crispEdges"/>
<path d="M234 333h2v11h-2zM247 333h2v11h-2zM251 333h1v11h-1zM416 333h2v11h-2z" fill="rgb(255,188,0)" shape-rendering="crispEdges"/>
<path d="M111 55.5H600M111 357.5H600M111.5 55V358M599.5 55V358" stroke="#000" stroke-width="1" fill="none" shape-rendering="crispEdges"/>
<path d="M112.5 358V368M132.5 358V363M152.5 358V363M172.5 358V363M193.5 358V363M213.5 358V363M233.5 358V368M254.5 358V363M274.5 358V363M294.5 358V363M314.5 358V363M335.5 358V363M355.5 358V368M375.5 358V363M396.5 358V363M416.5 358V363M436.5 358V363M456.5 358V363M477.5 358V368M497.5 358V363M517.5 358V363M538.5 358V363M558.5 358V363M578.5 358V363M599.5 358V368" stroke="#000" stroke-width="1" fill="none" shape-rendering="crispEdges"/>
<path d="M101 295.5H111M101 91.5H111M106 357.5H111M106 340.5H111M106 327.5H111M106 315.5H111M106 305.5H111M106 234.5H111M106 198.5H111M106 172.5H111M106 153.5H111M106 137.5H111M106 123.5H111M106 111.5H111M106 101.5H111" stroke="#000" stroke-width="1" fill="none" shape-rendering="crispEdges"/>
<text x="69.53" y="99.00" font-size="14.54" textLength="17.07" lengthAdjust="spacingAndGlyphs">10</text>
<text x="87.52" y="91.90" font-size="14.24" textLength="8.45" lengthAdjust="spacingAndGlyphs">3</text>
<text x="69.53" y="302.90" font-size="14.54" textLength="17.07" lengthAdjust="spacingAndGlyphs">10</text>
<text x="87.45" y="296.00" font-size="14.24" textLength="7.20" lengthAdjust="spacingAndGlyphs">2</text>
<text x="115.64" y="45.70" font-size="13.52" textLength="43.21" lengthAdjust="spacingAndGlyphs">RPS-B</text>
<text x="166.00" y="45.70" font-size="13.52" textLength="98.50" lengthAdjust="spacingAndGlyphs">Unidirectional,</text>
<text x="267.95" y="45.70" font-size="13.52" textLength="71.59" lengthAdjust="spacingAndGlyphs">differential</text>
<text x="342.78" y="45.70" font-size="13.52" textLength="23.68" lengthAdjust="spacingAndGlyphs">flux</text>
<text x="368.95" y="45.70" font-size="13.52" textLength="15.83" lengthAdjust="spacingAndGlyphs">vs</text>
<text x="388.83" y="45.70" font-size="13.52" textLength="48.20" lengthAdjust="spacingAndGlyphs">energy</text>
<text x="440.55" y="45.70" font-size="13.52" textLength="63.16" lengthAdjust="spacingAndGlyphs">(Isotropic</text>
<text x="509.03" y="45.70" font-size="13.52" textLength="86.46" lengthAdjust="spacingAndGlyphs">assumption)</text>
<text transform="translate(54.90,259.90) rotate(-90)" x="-1.13" y="0" font-size="14.39" textLength="31.51" lengthAdjust="spacingAndGlyphs">FPDI</text>
<text transform="translate(59.30,229.00) rotate(-90)" x="-0.86" y="0" font-size="10.61" textLength="33.28" lengthAdjust="spacingAndGlyphs">Energy</text>
<text transform="translate(55.00,192.00) rotate(-90)" x="-0.91" y="0" font-size="14.24" textLength="39.92" lengthAdjust="spacingAndGlyphs">(MeV)</text>
<defs><linearGradient id="cb" x1="0" y1="1" x2="0" y2="0"><stop offset="0.0" stop-color="rgb(0,0,90)"/><stop offset="0.11" stop-color="rgb(0,0,255)"/><stop offset="0.25" stop-color="rgb(0,255,255)"/><stop offset="0.5" stop-color="rgb(0,255,0)"/><stop offset="0.633" stop-color="rgb(255,255,0)"/><stop offset="1.0" stop-color="rgb(255,0,0)"/></linearGradient></defs>
<rect x="613" y="57" width="14" height="301" fill="url(#cb)"/>
<path d="M627.5 56V358" stroke="#000" stroke-width="1" shape-rendering="crispEdges"/>
<path d="M627 357.5H633M627 322.5H638M627 287.5H633M627 252.5H638M627 217.5H633M627 182.5H638M627 147.5H633M627 112.5H638M627 77.5H633" stroke="#000" stroke-width="1" fill="none" shape-rendering="crispEdges"/>
<text x="642.52" y="119.70" font-size="14.24" textLength="17.18" lengthAdjust="spacingAndGlyphs">10</text>
<text x="660.57" y="112.90" font-size="14.24" textLength="6.96" lengthAdjust="spacingAndGlyphs">2</text>
<text x="642.52" y="189.70" font-size="14.24" textLength="17.18" lengthAdjust="spacingAndGlyphs">10</text>
<text x="660.73" y="182.90" font-size="14.24" textLength="6.63" lengthAdjust="spacingAndGlyphs">0</text>
<text x="642.52" y="259.70" font-size="14.24" textLength="17.18" lengthAdjust="spacingAndGlyphs">10</text>
<path d="M661 249.7H665" stroke="#000" stroke-width="1"/>
<text x="665.09" y="252.80" font-size="14.24" textLength="7.81" lengthAdjust="spacingAndGlyphs">2</text>
<text x="642.52" y="329.70" font-size="14.24" textLength="17.18" lengthAdjust="spacingAndGlyphs">10</text>
<path d="M661 319.7H665" stroke="#000" stroke-width="1"/>
<text x="665.51" y="322.80" font-size="14.24" textLength="7.06" lengthAdjust="spacingAndGlyphs">4</text>
<text transform="translate(685.00,122.10) rotate(90)" x="-1.11" y="0" font-size="14.54" textLength="30.86" lengthAdjust="spacingAndGlyphs">FPDI</text>
<text transform="translate(685.00,155.90) rotate(90)" x="-1.11" y="0" font-size="14.54" textLength="53.20" lengthAdjust="spacingAndGlyphs">(#/cm^</text>
<text transform="translate(685.00,211.80) rotate(90)" x="-0.79" y="0" font-size="14.54" textLength="80.06" lengthAdjust="spacingAndGlyphs">2/s/sr/MeV)</text>
<text x="0" y="0"></text>
<text x="227.46" y="397.70" font-size="13.66" textLength="28.68" lengthAdjust="spacingAndGlyphs">RPS</text>
<text x="263.10" y="397.70" font-size="13.66" textLength="37.00" lengthAdjust="spacingAndGlyphs">Dose</text>
<text x="302.04" y="397.70" font-size="13.66" textLength="24.90" lengthAdjust="spacingAndGlyphs">rate</text>
<text x="329.68" y="397.70" font-size="13.66" textLength="13.00" lengthAdjust="spacingAndGlyphs">in</text>
<text x="350.06" y="397.70" font-size="13.66" textLength="74.21" lengthAdjust="spacingAndGlyphs">Dosimeter</text>
<text x="428.45" y="397.70" font-size="13.66" textLength="6.97" lengthAdjust="spacingAndGlyphs">1</text>
<text x="441.02" y="397.70" font-size="13.66" textLength="42.27" lengthAdjust="spacingAndGlyphs">(front)</text>
<path d="M101 499.5H111M101 472.5H111M101 446.5H111M101 419.5H111M106 513.5H111M106 510.5H111M106 507.5H111M106 505.5H111M106 503.5H111M106 502.5H111M106 500.5H111M106 491.5H111M106 486.5H111M106 483.5H111M106 480.5H111M106 478.5H111M106 476.5H111M106 475.5H111M106 474.5H111M106 464.5H111M106 460.5H111M106 456.5H111M106 454.5H111M106 452.5H111M106 450.5H111M106 448.5H111M106 447.5H111M106 438.5H111M106 433.5H111M106 430.5H111M106 427.5H111M106 425.5H111M106 423.5H111M106 422.5H111M106 420.5H111M106 411.5H111" stroke="#000" stroke-width="1" fill="none" shape-rendering="crispEdges"/>
<path d="M112.5 515V525M132.5 515V520M152.5 515V520M172.5 515V520M193.5 515V520M213.5 515V520M233.5 515V525M254.5 515V520M274.5 515V520M294.5 515V520M314.5 515V520M335.5 515V520M355.5 515V525M375.5 515V520M396.5 515V520M416.5 515V520M436.5 515V520M456.5 515V520M477.5 515V525M497.5 515V520M517.5 515V520M538.5 515V520M558.5 515V520M578.5 515V520M599.5 515V525" stroke="#000" stroke-width="1" fill="none" shape-rendering="crispEdges"/>
<path d="M111.80 468.70 112.23 468.98 112.76 469.32 113.38 469.72 114.07 470.17 114.83 470.67 115.63 471.19 116.47 471.73 117.34 472.28 118.22 472.69 119.10 473.66 119.96 473.78 120.80 474.23 121.62 474.37 122.44 475.26 123.27 476.48 124.10 476.60 124.95 477.44 125.81 477.51 126.69 478.08 127.60 478.45 128.53 477.92 129.48 479.77 130.47 480.04 131.50 480.47 132.58 479.71 133.73 480.12 134.93 481.03 136.16 481.70 137.43 482.56 138.70 482.78 139.97 483.49 141.24 483.23 142.47 484.11 143.67 484.48 144.82 484.19 145.90 485.74 146.92 485.32 147.90 485.87 148.83 485.04 149.74 485.12 150.62 485.46 151.48 485.68 152.32 486.15 153.16 485.98 154.00 485.60 154.85 485.30 155.72 485.49 156.60 486.37 157.49 485.15 158.35 485.60 159.21 485.54 160.06 484.30 160.92 484.93 161.78 485.38 162.65 483.28 163.54 483.90 164.45 483.68 165.40 482.91 166.38 483.22 167.40 482.47 168.47 481.20 169.60 481.91 170.77 481.23 171.97 480.75 173.20 480.35 174.44 479.06 175.68 478.21 176.93 476.69 178.16 477.00 179.37 475.57 180.56 474.90 181.70 473.70 182.82 473.10 183.92 472.54 185.01 472.71 186.10 470.03 187.17 469.49 188.22 469.56 189.27 469.36 190.30 467.71 191.32 466.89 192.33 466.09 193.32 465.32 194.30 464.60 195.28 463.89 196.26 463.16 197.24 462.43 198.22 461.70 199.18 460.99 200.13 460.31 201.04 459.68 201.93 459.11 202.77 458.62 203.57 458.21 204.31 457.90 205.00 457.70 205.62 457.63 206.18 457.67 206.69 457.81 207.14 458.04 207.56 458.34 207.95 458.70 208.31 459.11 208.66 459.54 208.99 459.99 209.32 460.45 209.65 460.89 210.00 461.30 210.34 461.68 210.66 462.04 210.95 462.39 211.23 462.75 211.50 463.12 211.77 463.52 212.03 463.96 212.30 464.45 212.58 465.01 212.86 465.65 213.17 466.37 213.50 467.20 213.86 468.15 214.23 469.21 214.63 470.36 215.04 471.60 215.46 472.91 215.88 474.26 216.30 475.65 216.71 477.05 217.12 478.45 217.50 479.84 217.86 481.20 218.20 482.50 218.52 483.79 218.82 485.10 219.11 486.44 219.39 487.77 219.66 489.11 219.92 490.44 220.16 491.76 220.40 493.05 220.62 494.31 220.82 495.52 221.02 496.69 221.20 497.80 221.37 498.88 221.52 499.96 221.65 501.03 221.78 502.07 221.89 503.09 221.99 504.06 222.08 504.97 222.16 505.83 222.23 506.61 222.29 507.30 222.35 507.90 222.40 508.40M222.40 508.40 222.40 514.00 222.40 508.40 224.40 508.40 224.70 500.10M226.30 494.30 226.36 493.16 226.43 491.73 226.52 490.06 226.61 488.18 226.71 486.14 226.82 483.97 226.94 481.73 227.07 479.44 227.21 477.15 227.36 474.91 227.53 472.74 227.70 470.70 227.89 468.73 228.10 466.77 228.33 464.80 228.57 462.83 228.83 460.86 229.09 458.89 229.35 456.93 229.61 454.96 229.87 452.99 230.13 451.03 230.37 449.06 230.60 447.10 230.82 445.10 231.03 443.02 231.24 440.90 231.44 438.76 231.64 436.62 231.84 434.51 232.03 432.44 232.23 430.44 232.42 428.53 232.61 426.74 232.81 425.09 233.00 423.60 233.20 422.21 233.39 420.87 233.59 419.58 233.79 418.36 233.98 417.24 234.18 416.23 234.37 415.35 234.56 414.61 234.75 414.04 234.94 413.66 235.12 413.47 235.30 413.50 235.48 413.73 235.66 414.12 235.84 414.67 236.03 415.39 236.21 416.27 236.38 417.31 236.55 418.52 236.72 419.90 236.88 421.45 237.03 423.16 237.17 425.05 237.30 427.10 237.42 429.36 237.52 431.86 237.62 434.56 237.70 437.46 237.78 440.52 237.85 443.73 237.92 447.06 237.99 450.49 238.06 454.00 238.13 457.57 238.21 461.18 238.30 464.80 238.40 468.65 238.50 472.90 238.61 477.44 238.73 482.17 238.85 486.98 238.96 491.76 239.07 496.41 239.18 500.82 239.28 504.89 239.37 508.51 239.44 511.59 239.50 514.00M243.60 514.00 243.63 511.90 243.66 509.25 243.70 506.14 243.74 502.66 243.78 498.87 243.83 494.86 243.88 490.71 243.94 486.50 244.00 482.31 244.06 478.23 244.13 474.33 244.20 470.70 244.27 467.14 244.36 463.44 244.44 459.65 244.54 455.83 244.63 452.03 244.73 448.31 244.83 444.72 244.93 441.31 245.03 438.15 245.12 435.27 245.21 432.73 245.30 430.60 245.38 428.87 245.45 427.50 245.53 426.44 245.59 425.66 245.66 425.12 245.73 424.78 245.79 424.59 245.86 424.53 245.94 424.54 246.02 424.60 246.10 424.67 246.20 424.70 246.29 424.73 246.38 424.81 246.46 424.96 246.54 425.18 246.62 425.49 246.71 425.88 246.82 426.37 246.94 426.97 247.09 427.69 247.26 428.53 247.46 429.49 247.70 430.60 247.98 431.89 248.31 433.36 248.68 435.01 249.07 436.80 249.49 438.70 249.92 440.69 250.36 442.75 250.80 444.83 251.23 446.93 251.64 449.01 252.04 451.04 252.40 453.00 252.74 454.94 253.07 456.91 253.39 458.90 253.71 460.91 254.01 462.93 254.31 464.95 254.61 466.96 254.89 468.96 255.18 470.93 255.45 472.86 255.73 474.76 256.00 476.60 256.27 478.40 256.54 480.17 256.81 481.91 257.07 483.63 257.33 485.32 257.58 486.99 257.83 488.63 258.06 490.26 258.29 491.87 258.51 493.46 258.71 495.04 258.90 496.60 259.08 498.20 259.25 499.85 259.41 501.54 259.56 503.24 259.70 504.92 259.83 506.55 259.95 508.12 260.06 509.59 260.16 510.93 260.25 512.14 260.33 513.17 260.40 514.00M260.40 514.00 260.46 513.02 260.53 511.77 260.60 510.28 260.68 508.60 260.77 506.79 260.88 504.89 260.99 502.95 261.12 501.01 261.26 499.13 261.42 497.35 261.60 495.73 261.80 494.30 262.02 493.04 262.26 491.88 262.52 490.79 262.80 489.78 263.09 488.82 263.39 487.91 263.71 487.02 264.04 486.14 264.37 485.26 264.71 484.38 265.05 483.46 265.40 482.50 265.75 481.51 266.12 480.52 266.50 479.52 266.89 478.52 267.28 477.52 267.68 476.52 268.09 475.53 268.49 474.54 268.90 473.57 269.30 472.60 269.70 471.64 270.10 470.70 270.49 469.76 270.88 468.80 271.28 467.84 271.67 466.88 272.06 465.93 272.45 464.99 272.84 464.08 273.23 463.20 273.63 462.35 274.02 461.55 274.41 460.79 274.80 460.10 275.19 459.46 275.57 458.86 275.94 458.31 276.32 457.79 276.69 457.31 277.07 456.86 277.45 456.45 277.84 456.07 278.23 455.71 278.64 455.38 279.06 455.08 279.50 454.80 279.95 454.54 280.41 454.32 280.87 454.12 281.34 453.95 281.82 453.81 282.31 453.70 282.81 453.62 283.33 453.56 283.85 453.53 284.39 453.53 284.94 453.55 285.50 453.60 286.06 453.67 286.62 453.77 287.17 453.88 287.73 454.03 288.30 454.20 288.89 454.39 289.51 454.62 290.16 455.00 290.84 454.80 291.57 455.01 292.36 455.96 293.20 456.15 294.11 456.56 295.09 457.54 296.13 458.20 297.22 458.69 298.35 459.43 299.51 460.20 300.68 461.17 301.87 461.70 303.05 462.37 304.22 463.02 305.38 463.18 306.50 464.26 307.60 464.63 308.70 464.93 309.80 464.78 310.90 465.36 312.00 465.94 313.10 465.67 314.20 466.23 315.30 466.69 316.40 466.44 317.50 467.22 318.60 467.21 319.70 467.27 320.81 467.57 321.91 467.84 323.02 467.94 324.13 468.35 325.24 468.17 326.35 468.39 327.46 468.83 328.57 468.75 329.68 468.67 330.79 469.09 331.89 469.22 333.00 468.81 334.10 468.55 335.20 468.68 336.30 468.51 337.40 468.28 338.50 468.39 339.60 467.65 340.70 467.84 341.80 467.05 342.90 466.86 344.00 466.86 345.10 466.69 346.20 466.37 347.31 466.03 348.41 465.75 349.52 465.53 350.63 465.38 351.74 465.00 352.85 464.85 353.96 464.65 355.07 464.27 356.18 464.12 357.29 463.76 358.39 463.69 359.50 462.96 360.62 462.45 361.76 461.93 362.91 461.36 364.07 460.76 365.23 460.13 366.38 459.49 367.52 458.86 368.63 458.25 369.71 457.68 370.76 457.15 371.75 456.69 372.70 456.30 373.59 455.97 374.45 455.68 375.26 455.42 376.04 455.20 376.78 455.01 377.51 454.85 378.21 454.73 378.89 454.65 379.55 454.60 380.21 454.60 380.85 454.63 381.50 454.70 382.13 454.80 382.74 454.92 383.32 455.08 383.89 455.26 384.45 455.48 384.99 455.74 385.52 456.05 386.05 456.42 386.58 456.84 387.11 457.32 387.65 457.88 388.20 458.50 388.76 459.21 389.32 460.02 389.88 460.91 390.45 461.87 391.01 462.89 391.57 463.96 392.13 465.05 392.69 466.17 393.23 467.30 393.76 468.42 394.29 469.52 394.80 470.60 395.30 471.63 395.79 472.62 396.28 473.58 396.76 474.54 397.23 475.50 397.69 476.49 398.14 477.52 398.59 478.61 399.03 479.77 399.46 481.03 399.88 482.40 400.30 483.90 400.72 485.62 401.15 487.59 401.58 489.77 402.01 492.09 402.43 494.48 402.84 496.88 403.23 499.24 403.60 501.49 403.94 503.58 404.23 505.43 404.49 506.99 404.70 508.20M404.70 508.20 404.80 507.66 404.90 507.13 405.02 506.58 405.15 505.97 405.29 505.27 405.46 504.44 405.64 503.45 405.84 502.27 406.07 500.86 406.32 499.18 406.59 497.21 406.90 494.90 407.25 492.09 407.65 488.71 408.09 484.87 408.57 480.69 409.07 476.28 409.58 471.75 410.10 467.22 410.61 462.81 411.10 458.63 411.57 454.79 412.01 451.41 412.40 448.60 412.75 446.37 413.07 444.59 413.37 443.19 413.64 442.09 413.91 441.22 414.16 440.51 414.40 439.87 414.64 439.24 414.89 438.55 415.15 437.71 415.41 436.65 415.70 435.30 416.00 433.58 416.32 431.52 416.65 429.21 416.98 426.74 417.32 424.21 417.66 421.69 417.99 419.29 418.32 417.09 418.64 415.18 418.94 413.65 419.23 412.59 419.50 412.10 419.76 411.99 420.00 412.06 420.24 412.34 420.47 412.87 420.70 413.70 420.91 414.86 421.11 416.38 421.29 418.31 421.47 420.69 421.63 423.56 421.77 426.95 421.90 430.90 422.01 435.84 422.10 441.99 422.17 449.10 422.23 456.91 422.27 465.17 422.30 473.62 422.32 482.01 422.34 490.07 422.35 497.56 422.37 504.21 422.38 509.78 422.40 514.00M427.90 514.00 427.95 509.90 428.01 504.51 428.07 498.07 428.14 490.83 428.22 483.02 428.31 474.90 428.41 466.70 428.51 458.67 428.62 451.05 428.74 444.09 428.87 438.02 429.00 433.10 429.14 429.11 429.29 425.64 429.45 422.67 429.61 420.15 429.78 418.04 429.96 416.31 430.15 414.90 430.34 413.79 430.55 412.94 430.76 412.30 430.97 411.83 431.20 411.50 431.43 411.44 431.68 411.79 431.93 412.48 432.19 413.49 432.45 414.74 432.73 416.20 433.01 417.82 433.29 419.54 433.59 421.32 433.89 423.10 434.19 424.85 434.50 426.50 434.82 428.12 435.17 429.79 435.53 431.51 435.90 433.29 436.27 435.13 436.65 437.03 437.02 438.98 437.39 441.00 437.75 443.07 438.09 445.22 438.41 447.43 438.70 449.70 438.97 452.11 439.22 454.70 439.44 457.44 439.66 460.27 439.86 463.17 440.06 466.09 440.24 468.99 440.43 471.84 440.61 474.60 440.80 477.22 441.00 479.66 441.20 481.90 441.41 483.96 441.63 485.92 441.84 487.77 442.06 489.52 442.28 491.18 442.50 492.74 442.72 494.23 442.93 495.63 443.13 496.95 443.33 498.20 443.52 499.38 443.70 500.50 443.88 501.54 444.05 502.48 444.22 503.33 444.39 504.10 444.55 504.79 444.71 505.41 444.85 505.97 444.99 506.47 445.11 506.91 445.22 507.31 445.32 507.67 445.40 508.00M445.40 508.00 445.49 507.48 445.58 506.85 445.69 506.13 445.81 505.33 445.94 504.44 446.09 503.49 446.26 502.47 446.44 501.41 446.65 500.30 446.88 499.16 447.13 497.99 447.40 496.80 447.70 495.57 448.02 494.29 448.36 492.94 448.72 491.55 449.10 490.11 449.51 488.64 449.93 487.13 450.37 485.61 450.82 484.06 451.30 482.51 451.79 480.95 452.30 479.40 452.83 477.79 453.40 476.07 453.99 474.27 454.61 472.43 455.25 470.57 455.89 468.72 456.55 466.92 457.21 465.19 457.87 463.57 458.53 462.07 459.17 460.74 459.80 459.60 460.40 458.63 460.98 457.79 461.54 457.07 462.09 456.47 462.63 455.96 463.19 455.55 463.76 455.23 464.36 454.98 464.99 454.80 465.67 454.68 466.41 454.62 467.20 454.60 468.06 454.66 468.96 454.83 469.91 455.10 470.90 455.46 471.93 455.88 472.99 456.36 474.07 456.88 475.17 457.42 476.29 457.98 477.42 458.54 478.56 459.08 479.70 459.60 480.84 459.98 482.00 460.54 483.18 461.22 484.37 462.09 485.57 462.31 486.79 463.13 488.03 464.18 489.29 463.46 490.56 464.49 491.86 465.48 493.17 466.09 494.50 466.57 495.89 466.89 497.36 467.75 498.90 468.17 500.47 468.46 502.07 469.86 503.66 469.74 505.22 469.95 506.74 470.54 508.19 470.93 509.54 471.36 510.79 470.90 511.90 471.85 512.85 472.54 513.64 472.07 514.30 472.55 514.86 472.97 515.35 473.02 515.81 473.26 516.25 472.33 516.72 472.73 517.24 472.72 517.84 472.98 518.55 473.08 519.40 471.90 520.38 472.97 521.46 472.14 522.60 472.70 523.82 471.96 525.08 472.34 526.39 472.51 527.72 471.96 529.06 471.88 530.40 471.85 531.73 471.41 533.03 471.08 534.30 471.26 535.55 470.76 536.81 469.96 538.08 470.43 539.36 468.78 540.63 468.89 541.91 468.01 543.17 467.59 544.42 467.22 545.65 466.54 546.86 466.15 548.05 465.01 549.20 464.55 550.33 464.73 551.45 463.81 552.56 463.33 553.66 462.74 554.73 463.12 555.79 462.52 556.82 462.32 557.83 461.19 558.82 461.09 559.78 460.38 560.70 460.40 561.60 460.10 562.46 459.81 563.29 459.51 564.09 459.21 564.87 458.93 565.61 458.66 566.34 458.43 567.04 458.23 567.72 458.10 568.39 458.02 569.04 458.03 569.67 458.11 570.30 458.30 570.90 458.57 571.48 458.91 572.03 459.32 572.55 459.79 573.06 460.33 573.56 460.93 574.04 461.59 574.53 462.32 575.01 463.10 575.50 463.94 575.99 464.84 576.50 465.80 577.02 466.84 577.56 467.97 578.11 469.19 578.66 470.48 579.21 471.83 579.76 473.23 580.29 474.66 580.82 476.12 581.33 477.58 581.81 479.04 582.27 480.49 582.70 481.90 583.10 483.31 583.48 484.76 583.84 486.22 584.18 487.70 584.50 489.19 584.81 490.69 585.11 492.18 585.39 493.65 585.65 495.11 585.91 496.54 586.16 497.94 586.40 499.30 586.63 500.67 586.85 502.08 587.07 503.51 587.27 504.94 587.46 506.36 587.63 507.74 587.79 509.05 587.94 510.29 588.08 511.42 588.20 512.43 588.31 513.30 588.40 514.00M588.40 514.00 588.48 513.43 588.56 512.85 588.66 512.22 588.76 511.51 588.88 510.72 589.01 509.81 589.16 508.75 589.31 507.53 589.49 506.12 589.68 504.49 589.88 502.63 590.10 500.50 590.34 498.01 590.59 495.11 590.86 491.88 591.15 488.39 591.45 484.71 591.76 480.91 592.09 477.06 592.43 473.24 592.78 469.51 593.14 465.95 593.52 462.62 593.90 459.60 594.32 456.76 594.78 453.95 595.28 451.18 595.81 448.48 596.35 445.88 596.89 443.39 597.41 441.05 597.91 438.87 598.37 436.89 598.78 435.11 599.13 433.58 599.40 432.30" stroke="#000" stroke-width="1.3" fill="none" stroke-linejoin="round"/>
<path d="M220.6 497.5H222.6V508.5H220.6zM259.2 497.3H262.7V503.6H261.3V508.8H259.2zM403.2 503H406V508.5H403.2zM444 502H446.2V507H444zM587 501H588V508.8H587zM588.2 500.2H590.9V514H588.2z" fill="#000"/>
<path d="M111 407.5H600M111 514.5H600M111.5 407V515M599.5 407V515" stroke="#000" stroke-width="1" fill="none" shape-rendering="crispEdges"/>
<text x="64.53" y="427.10" font-size="14.24" textLength="17.07" lengthAdjust="spacingAndGlyphs">10</text>
<path d="M83 417.0H87" stroke="#000" stroke-width="1"/>
<text x="86.99" y="420.00" font-size="13.95" textLength="8.91" lengthAdjust="spacingAndGlyphs">3</text>
<text x="64.53" y="453.77" font-size="14.24" textLength="17.07" lengthAdjust="spacingAndGlyphs">10</text>
<path d="M83 443.7H87" stroke="#000" stroke-width="1"/>
<text x="87.25" y="446.67" font-size="13.95" textLength="8.39" lengthAdjust="spacingAndGlyphs">4</text>
<text x="64.53" y="480.44" font-size="14.24" textLength="17.07" lengthAdjust="spacingAndGlyphs">10</text>
<path d="M83 470.3H87" stroke="#000" stroke-width="1"/>
<text x="86.96" y="473.34" font-size="13.95" textLength="8.91" lengthAdjust="spacingAndGlyphs">5</text>
<text x="64.53" y="507.11" font-size="14.24" textLength="17.07" lengthAdjust="spacingAndGlyphs">10</text>
<path d="M83 497.0H87" stroke="#000" stroke-width="1"/>
<text x="86.76" y="500.01" font-size="13.95" textLength="9.16" lengthAdjust="spacingAndGlyphs">6</text>
<text transform="translate(52.90,494.70) rotate(-90)" x="-0.97" y="0" font-size="14.54" textLength="69.54" lengthAdjust="spacingAndGlyphs">(rads/sec)</text>
<text x="125.54" y="555.40" font-size="13.52" textLength="68.98" lengthAdjust="spacingAndGlyphs">Equatorial</text>
<text x="197.88" y="555.40" font-size="13.52" textLength="33.45" lengthAdjust="spacingAndGlyphs">pitch</text>
<text x="235.95" y="555.40" font-size="13.52" textLength="37.53" lengthAdjust="spacingAndGlyphs">angle</text>
<text x="278.49" y="555.40" font-size="13.52" textLength="12.19" lengthAdjust="spacingAndGlyphs">of</text>
<text x="295.10" y="555.40" font-size="13.52" textLength="50.09" lengthAdjust="spacingAndGlyphs">particle</text>
<text x="349.52" y="555.40" font-size="13.52" textLength="28.83" lengthAdjust="spacingAndGlyphs">with</text>
<text x="381.06" y="555.40" font-size="13.52" textLength="17.45" lengthAdjust="spacingAndGlyphs">90</text>
<text x="402.63" y="555.40" font-size="13.52" textLength="49.78" lengthAdjust="spacingAndGlyphs">degree</text>
<text x="456.65" y="555.40" font-size="13.52" textLength="34.41" lengthAdjust="spacingAndGlyphs">pitch</text>
<text x="494.64" y="555.40" font-size="13.52" textLength="38.16" lengthAdjust="spacingAndGlyphs">angle</text>
<text x="536.39" y="555.40" font-size="13.52" textLength="12.88" lengthAdjust="spacingAndGlyphs">in</text>
<text x="552.94" y="555.40" font-size="13.52" textLength="30.92" lengthAdjust="spacingAndGlyphs">OPQ</text>
<path d="M101 670.5H111M101 658.5H111M101 645.5H111M101 633.5H111M101 620.5H111M101 608.5H111M101 595.5H111M101 583.5H111M101 570.5H111M106 668.5H111M106 665.5H111M106 663.5H111M106 660.5H111M106 655.5H111M106 653.5H111M106 650.5H111M106 648.5H111M106 643.5H111M106 640.5H111M106 638.5H111M106 635.5H111M106 630.5H111M106 628.5H111M106 625.5H111M106 623.5H111M106 618.5H111M106 615.5H111M106 613.5H111M106 610.5H111M106 605.5H111M106 603.5H111M106 600.5H111M106 598.5H111M106 593.5H111M106 590.5H111M106 588.5H111M106 585.5H111M106 580.5H111M106 578.5H111M106 575.5H111M106 573.5H111M106 568.5H111M106 565.5H111" stroke="#000" stroke-width="1" fill="none" shape-rendering="crispEdges"/>
<path d="M112.5 673V683M132.5 673V678M152.5 673V678M172.5 673V678M193.5 673V678M213.5 673V678M233.5 673V683M254.5 673V678M274.5 673V678M294.5 673V678M314.5 673V678M335.5 673V678M355.5 673V683M375.5 673V678M396.5 673V678M416.5 673V678M436.5 673V678M456.5 673V678M477.5 673V683M497.5 673V678M517.5 673V678M538.5 673V678M558.5 673V678M578.5 673V678M599.5 673V683" stroke="#000" stroke-width="1" fill="none" shape-rendering="crispEdges"/>
<path d="M111.70 661.80 112.11 661.91 112.61 662.06 113.20 662.23 113.86 662.43 114.58 662.64 115.35 662.86 116.15 663.09 116.98 663.31 117.82 663.53 118.66 663.74 119.49 663.93 120.30 664.10 121.10 664.25 121.93 664.40 122.78 664.54 123.64 664.68 124.51 664.81 125.39 664.93 126.28 665.05 127.17 665.16 128.06 665.26 128.95 665.35 129.83 665.43 130.70 665.50 131.56 665.56 132.42 665.61 133.28 665.65 134.14 665.68 134.99 665.70 135.85 665.71 136.71 665.72 137.56 665.72 138.42 665.72 139.28 665.72 140.14 665.71 141.00 665.70 141.84 665.69 142.66 665.67 143.45 665.65 144.23 665.62 145.01 665.59 145.81 665.55 146.62 665.51 147.47 665.47 148.36 665.43 149.31 665.39 150.32 665.34 151.40 665.30 152.59 665.25 153.88 665.20 155.26 665.14 156.71 665.08 158.20 665.01 159.71 664.95 161.22 664.89 162.70 664.83 164.15 664.78 165.53 664.74 166.82 664.72 168.00 664.70 169.07 664.69 170.03 664.70 170.92 664.70 171.74 664.72 172.53 664.74 173.28 664.77 174.03 664.80 174.79 664.85 175.58 664.90 176.41 664.96 177.31 665.02 178.30 665.10 179.37 665.19 180.50 665.29 181.68 665.40 182.90 665.53 184.15 665.66 185.42 665.80 186.69 665.94 187.97 666.08 189.22 666.22 190.46 666.35 191.65 666.48 192.80 666.60 193.91 666.72 195.01 666.86 196.10 667.01 197.17 667.17 198.22 667.32 199.26 667.46 200.29 667.59 201.30 667.70 202.30 667.78 203.28 667.83 204.25 667.84 205.20 667.80 206.14 667.73 207.06 667.64 207.97 667.52 208.86 667.38 209.74 667.21 210.61 667.02 211.46 666.79 212.29 666.53 213.11 666.23 213.92 665.90 214.72 665.52 215.50 665.10 216.27 664.64 217.02 664.13 217.76 663.59 218.49 663.01 219.21 662.39 219.91 661.74 220.59 661.06 221.26 660.34 221.92 659.60 222.56 658.83 223.19 658.03 223.80 657.20 224.40 656.38 224.98 655.59 225.55 654.80 226.10 654.00 226.64 653.18 227.16 652.30 227.67 651.36 228.17 650.33 228.65 649.20 229.11 647.95 229.56 646.55 230.00 645.00 230.42 643.28 230.82 641.39 231.21 639.36 231.57 637.21 231.93 634.96 232.27 632.62 232.60 630.22 232.91 627.77 233.22 625.30 233.52 622.81 233.81 620.34 234.10 617.90 234.38 615.40 234.64 612.75 234.90 610.00 235.15 607.18 235.39 604.34 235.61 601.51 235.83 598.72 236.04 596.03 236.24 593.46 236.44 591.06 236.62 588.86 236.80 586.90 236.97 585.16 237.14 583.57 237.29 582.12 237.44 580.81 237.59 579.63 237.72 578.56 237.84 577.60 237.96 576.74 238.06 575.97 238.15 575.28 238.23 574.66 238.30 574.10M238.30 574.10 238.37 574.84 238.46 575.66 238.57 576.56 238.68 577.57 238.81 578.70 238.94 579.96 239.09 581.37 239.24 582.93 239.40 584.66 239.56 586.57 239.73 588.68 239.90 591.00 240.07 593.61 240.26 596.54 240.45 599.74 240.64 603.16 240.85 606.75 241.06 610.46 241.27 614.24 241.49 618.03 241.71 621.80 241.94 625.48 242.17 629.03 242.40 632.40 242.65 635.74 242.92 639.23 243.21 642.79 243.50 646.37 243.81 649.92 244.11 653.39 244.40 656.71 244.67 659.83 244.93 662.70 245.16 665.25 245.35 667.44 245.50 669.20M245.50 669.20 245.65 668.34 245.82 667.30 246.03 666.09 246.26 664.73 246.52 663.25 246.79 661.66 247.07 659.99 247.37 658.24 247.67 656.45 247.98 654.64 248.29 652.81 248.60 651.00 248.91 649.14 249.24 647.17 249.57 645.12 249.92 643.00 250.28 640.84 250.64 638.64 251.00 636.44 251.37 634.25 251.73 632.09 252.09 629.98 252.45 627.95 252.80 626.00 253.15 624.11 253.49 622.23 253.84 620.37 254.19 618.54 254.54 616.73 254.88 614.97 255.23 613.25 255.57 611.57 255.91 609.96 256.24 608.40 256.57 606.91 256.90 605.50 257.21 604.18 257.50 602.95 257.78 601.80 258.04 600.71 258.30 599.69 258.57 598.71 258.84 597.75 259.14 596.82 259.45 595.89 259.80 594.95 260.18 593.99 260.60 593.00 261.06 591.99 261.55 590.97 262.07 589.96 262.61 588.96 263.17 587.95 263.76 586.96 264.36 585.97 264.98 584.99 265.62 584.02 266.27 583.07 266.93 582.13 267.60 581.20 268.32 580.26 269.11 579.29 269.96 578.30 270.84 577.30 271.74 576.32 272.64 575.36 273.51 574.45 274.33 573.59 275.10 572.80 275.77 572.09 276.35 571.49 276.80 571.00M276.80 571.00 277.22 571.34 277.74 571.77 278.32 572.27 278.99 572.84 279.71 573.46 280.49 574.11 281.31 574.77 282.18 575.45 283.08 576.11 284.01 576.75 284.95 577.35 285.90 577.90 286.87 578.41 287.86 578.93 288.89 579.43 289.95 579.93 291.04 580.41 292.16 580.89 293.32 581.35 294.52 581.80 295.75 582.23 297.03 582.64 298.34 583.03 299.70 583.40 301.12 583.75 302.60 584.10 304.14 584.44 305.73 584.76 307.35 585.06 309.01 585.34 310.68 585.61 312.36 585.84 314.05 586.06 315.72 586.24 317.37 586.39 319.00 586.50 320.60 586.57 322.19 586.60 323.76 586.59 325.33 586.54 326.90 586.47 328.48 586.38 330.07 586.27 331.67 586.16 333.29 586.03 334.93 585.91 336.60 585.80 338.30 585.70 340.06 585.60 341.87 585.49 343.74 585.36 345.63 585.23 347.55 585.09 349.47 584.95 351.38 584.81 353.27 584.69 355.12 584.57 356.91 584.46 358.65 584.37 360.30 584.30 361.87 584.25 363.38 584.21 364.83 584.18 366.24 584.16 367.60 584.15 368.94 584.14 370.26 584.15 371.57 584.17 372.88 584.19 374.20 584.22 375.54 584.26 376.90 584.30 378.30 584.35 379.72 584.39 381.16 584.44 382.61 584.49 384.06 584.55 385.49 584.62 386.91 584.71 388.30 584.81 389.66 584.92 390.96 585.06 392.21 585.22 393.40 585.40 394.52 585.60 395.59 585.80 396.62 586.02 397.60 586.24 398.55 586.49 399.46 586.76 400.35 587.05 401.21 587.37 402.05 587.72 402.87 588.10 403.69 588.53 404.50 589.00 405.30 589.53 406.09 590.14 406.87 590.81 407.63 591.52 408.37 592.27 409.09 593.03 409.78 593.80 410.45 594.56 411.09 595.29 411.69 595.98 412.26 596.62 412.80 597.20 413.30 597.73 413.77 598.24 414.22 598.73 414.63 599.20 415.01 599.64 415.37 600.06 415.69 600.45 415.99 600.81 416.26 601.14 416.50 601.43 416.72 601.68 416.90 601.90M416.90 601.90 419.70 593.10 421.90 573.20 423.80 584.80 426.60 587.00 429.30 572.40 432.10 584.80M432.10 584.80 432.49 585.28 432.96 585.89 433.50 586.62 434.11 587.43 434.77 588.32 435.49 589.24 436.24 590.19 437.03 591.14 437.83 592.07 438.65 592.96 439.48 593.77 440.30 594.50 441.14 595.15 442.01 595.77 442.92 596.35 443.85 596.91 444.81 597.44 445.78 597.96 446.77 598.46 447.76 598.96 448.75 599.46 449.75 599.96 450.73 600.47 451.70 601.00 452.66 601.54 453.63 602.08 454.60 602.63 455.57 603.18 456.55 603.72 457.52 604.27 458.50 604.81 459.48 605.34 460.46 605.87 461.44 606.39 462.42 606.90 463.40 607.40 464.38 607.89 465.36 608.37 466.35 608.84 467.33 609.30 468.31 609.76 469.30 610.21 470.29 610.66 471.27 611.10 472.25 611.53 473.24 611.96 474.22 612.38 475.20 612.80 476.18 613.21 477.16 613.62 478.13 614.02 479.11 614.41 480.08 614.80 481.06 615.19 482.03 615.57 483.00 615.94 483.98 616.31 484.95 616.68 485.93 617.04 486.90 617.40 487.88 617.76 488.85 618.11 489.82 618.46 490.80 618.80 491.77 619.14 492.75 619.48 493.72 619.81 494.70 620.14 495.68 620.46 496.65 620.78 497.62 621.09 498.60 621.40 499.57 621.70 500.55 621.99 501.52 622.27 502.50 622.55 503.47 622.82 504.44 623.09 505.42 623.36 506.39 623.63 507.37 623.89 508.34 624.16 509.32 624.43 510.30 624.70 511.28 624.98 512.26 625.25 513.25 625.53 514.23 625.81 515.21 626.09 516.20 626.37 517.19 626.65 518.17 626.92 519.15 627.20 520.14 627.47 521.12 627.74 522.10 628.00 523.08 628.26 524.06 628.51 525.03 628.76 526.01 629.00 526.98 629.24 527.96 629.48 528.93 629.72 529.90 629.97 530.88 630.21 531.85 630.47 532.83 630.73 533.80 631.00 534.77 631.28 535.75 631.57 536.72 631.87 537.70 632.17 538.67 632.48 539.65 632.79 540.62 633.10 541.60 633.41 542.57 633.71 543.55 634.02 544.52 634.31 545.50 634.60 546.48 634.89 547.48 635.18 548.48 635.47 549.49 635.76 550.49 636.05 551.49 636.34 552.49 636.61 553.47 636.88 554.44 637.14 555.38 637.38 556.31 637.60 557.20 637.80 558.07 637.99 558.91 638.17 559.74 638.35 560.55 638.52 561.34 638.67 562.12 638.81 562.88 638.93 563.64 639.04 564.39 639.12 565.13 639.17 565.87 639.20 566.60 639.20 567.33 639.18 568.04 639.15 568.73 639.10 569.42 639.03 570.10 638.95 570.78 638.83 571.44 638.69 572.11 638.51 572.78 638.30 573.45 638.04 574.12 637.75 574.80 637.40 575.49 637.02 576.18 636.60 576.88 636.16 577.57 635.68 578.27 635.17 578.97 634.61 579.66 634.02 580.35 633.37 581.03 632.68 581.70 631.94 582.36 631.15 583.00 630.30 583.64 629.38 584.27 628.39 584.91 627.34 585.54 626.23 586.16 625.08 586.77 623.88 587.37 622.65 587.95 621.40 588.52 620.13 589.07 618.85 589.60 617.57 590.10 616.30 590.58 615.02 591.04 613.73 591.47 612.42 591.89 611.10 592.29 609.76 592.67 608.40 593.05 607.02 593.41 605.63 593.77 604.22 594.11 602.80 594.46 601.36 594.80 599.90 595.14 598.37 595.48 596.73 595.82 595.01 596.14 593.24 596.46 591.46 596.77 589.69 597.07 587.97 597.36 586.32 597.62 584.78 597.87 583.38 598.10 582.14 598.30 581.10 598.48 580.26 598.63 579.59 598.77 579.07 598.89 578.67 598.98 578.38 599.07 578.18 599.14 578.04 599.20 577.94 599.26 577.87 599.31 577.80 599.35 577.72 599.40 577.60" stroke="#000" stroke-width="1.3" fill="none" stroke-linejoin="round"/>
<path d="M111 565.5H600M111 672.5H600M111.5 565V673M599.5 565V673" stroke="#000" stroke-width="1" fill="none" shape-rendering="crispEdges"/>
<text x="74.16" y="674.80" font-size="13.95" textLength="22.31" lengthAdjust="spacingAndGlyphs">50.</text>
<text x="74.16" y="662.31" font-size="13.95" textLength="22.31" lengthAdjust="spacingAndGlyphs">55.</text>
<text x="73.98" y="649.82" font-size="13.95" textLength="22.50" lengthAdjust="spacingAndGlyphs">60.</text>
<text x="73.98" y="637.34" font-size="13.95" textLength="22.50" lengthAdjust="spacingAndGlyphs">65.</text>
<text x="73.97" y="624.85" font-size="13.95" textLength="22.51" lengthAdjust="spacingAndGlyphs">70.</text>
<text x="73.97" y="612.36" font-size="13.95" textLength="22.51" lengthAdjust="spacingAndGlyphs">75.</text>
<text x="74.10" y="599.88" font-size="13.95" textLength="22.37" lengthAdjust="spacingAndGlyphs">80.</text>
<text x="74.10" y="587.39" font-size="13.95" textLength="22.37" lengthAdjust="spacingAndGlyphs">85.</text>
<text x="74.04" y="574.90" font-size="13.95" textLength="22.43" lengthAdjust="spacingAndGlyphs">90.</text>
<g>
<text transform="translate(56.10,653.00) rotate(-90)" x="-0.68" y="0" font-size="14.83" textLength="9.34" lengthAdjust="spacingAndGlyphs">α</text>
<text transform="translate(63.20,642.80) rotate(-90)" x="-1.20" y="0" font-size="14.83" textLength="17.83" lengthAdjust="spacingAndGlyphs">Eq</text>
<text transform="translate(56.10,620.80) rotate(-90)" x="-0.98" y="0" font-size="14.83" textLength="36.86" lengthAdjust="spacingAndGlyphs">(deg)</text>
</g>
<text x="204.45" y="712.70" font-size="13.52" textLength="59.34" lengthAdjust="spacingAndGlyphs">McIlwain</text>
<text x="266.03" y="712.70" font-size="13.52" textLength="7.95" lengthAdjust="spacingAndGlyphs">L</text>
<text x="277.38" y="712.70" font-size="13.52" textLength="12.30" lengthAdjust="spacingAndGlyphs">of</text>
<text x="294.02" y="712.70" font-size="13.52" textLength="40.31" lengthAdjust="spacingAndGlyphs">locally</text>
<text x="338.67" y="712.70" font-size="13.52" textLength="61.23" lengthAdjust="spacingAndGlyphs">mirroring</text>
<text x="403.60" y="712.70" font-size="13.52" textLength="50.20" lengthAdjust="spacingAndGlyphs">particle</text>
<text x="457.30" y="712.70" font-size="13.52" textLength="12.76" lengthAdjust="spacingAndGlyphs">in</text>
<text x="473.73" y="712.70" font-size="13.52" textLength="31.66" lengthAdjust="spacingAndGlyphs">OPQ</text>
<path d="M101 856.5H111M101 831.5H111M101 807.5H111M101 783.5H111M101 759.5H111M101 734.5H111M106 860.5H111M106 858.5H111M106 853.5H111M106 851.5H111M106 848.5H111M106 846.5H111M106 843.5H111M106 841.5H111M106 839.5H111M106 836.5H111M106 834.5H111M106 829.5H111M106 826.5H111M106 824.5H111M106 822.5H111M106 819.5H111M106 817.5H111M106 814.5H111M106 812.5H111M106 810.5H111M106 805.5H111M106 802.5H111M106 800.5H111M106 797.5H111M106 795.5H111M106 793.5H111M106 790.5H111M106 788.5H111M106 785.5H111M106 780.5H111M106 778.5H111M106 776.5H111M106 773.5H111M106 771.5H111M106 768.5H111M106 766.5H111M106 764.5H111M106 761.5H111M106 756.5H111M106 754.5H111M106 751.5H111M106 749.5H111M106 747.5H111M106 744.5H111M106 742.5H111M106 739.5H111M106 737.5H111M106 732.5H111M106 730.5H111M106 727.5H111M106 725.5H111M106 722.5H111" stroke="#000" stroke-width="1" fill="none" shape-rendering="crispEdges"/>
<path d="M112.5 863V873M132.5 863V868M152.5 863V868M172.5 863V868M193.5 863V868M213.5 863V868M233.5 863V873M254.5 863V868M274.5 863V868M294.5 863V868M314.5 863V868M335.5 863V868M355.5 863V873M375.5 863V868M396.5 863V868M416.5 863V868M436.5 863V868M456.5 863V868M477.5 863V873M497.5 863V868M517.5 863V868M538.5 863V868M558.5 863V868M578.5 863V868M599.5 863V873" stroke="#000" stroke-width="1" fill="none" shape-rendering="crispEdges"/>
<path d="M111.70 743.18 112.70 742.09 113.70 741.03 114.70 740.00 115.70 739.01 116.70 738.04 117.70 737.11 118.70 736.21 119.70 735.34 120.70 734.51 121.70 733.70 122.70 732.93 123.70 732.18 124.70 731.47 125.70 730.79 126.70 730.14 127.70 729.52 128.70 728.93 129.70 728.38 130.70 727.85 131.70 727.35 132.70 726.88 133.70 726.44 134.70 726.04 135.70 725.66 136.70 725.31 137.70 724.99 138.70 724.69 139.70 724.43 140.70 724.20 141.70 723.99 142.70 723.82 143.70 723.67 144.70 723.55 145.70 723.46 146.70 723.40 147.70 723.36 148.70 723.35 149.70 723.37 150.70 723.42 151.70 723.50 152.70 723.60 153.70 723.73 154.70 723.88 155.70 724.07 156.70 724.27 157.70 724.51 158.70 724.77 159.70 725.06 160.70 725.38 161.70 725.72 162.70 726.08 163.70 726.48 164.70 726.89 165.70 727.34 166.70 727.80 167.70 728.30 168.70 728.82 169.70 729.36 170.70 729.93 171.70 730.52 172.70 731.14 173.70 731.78 174.70 732.45 175.70 733.14 176.70 733.85 177.70 734.59 178.70 735.35 179.70 736.13 180.70 736.94 181.70 737.77 182.70 738.62 183.70 739.50 184.70 740.40 185.70 741.32 186.70 742.27 187.70 743.24 188.70 744.23 189.70 745.24 190.70 746.27 191.70 747.33 192.70 748.42 193.70 749.54 194.70 750.69 195.70 751.88 196.70 753.10 197.70 754.36 198.70 755.67 199.70 757.02 200.70 758.42 201.70 759.87 202.70 761.37 203.70 762.93 204.70 764.54 205.70 766.21 206.70 767.94 207.70 769.73 208.70 771.58 209.70 773.50 210.70 775.48 211.70 777.53 212.70 779.65 213.70 781.84 214.70 784.09 215.70 786.42 216.70 788.83 217.70 791.30 218.70 793.86 219.70 796.49 220.70 799.20 221.70 801.97 222.70 804.81 223.70 807.69 224.70 810.61 225.70 813.57 226.70 816.55 227.70 819.55 228.70 822.56 229.70 825.57 230.70 828.58 231.70 831.56 232.70 834.53 233.70 837.45 234.70 840.31 235.70 843.09 236.70 845.77 237.70 848.33Q240.05 857.31 242.40 850.25L242.40 850.25 243.40 847.89 244.40 845.50 245.40 843.08 246.40 840.64 247.40 838.18 248.40 835.70 249.40 833.21 250.40 830.71 251.40 828.20 252.40 825.68 253.40 823.17 254.40 820.66 255.40 818.15 256.40 815.65 257.40 813.17 258.40 810.70 259.40 808.24 260.40 805.82 261.40 803.41 262.40 801.04 263.40 798.70 264.40 796.39 265.40 794.12 266.40 791.89 267.40 789.71 268.40 787.58 269.40 785.50 270.40 783.47 271.40 781.50 272.40 779.57 273.40 777.70 274.40 775.89 275.40 774.12 276.40 772.40 277.40 770.73 278.40 769.11 279.40 767.54 280.40 766.01 281.40 764.53 282.40 763.10 283.40 761.72 284.40 760.37 285.40 759.07 286.40 757.82 287.40 756.61 288.40 755.44 289.40 754.31 290.40 753.22 291.40 752.18 292.40 751.17 293.40 750.20 294.40 749.27 295.40 748.37 296.40 747.52 297.40 746.70 298.40 745.91 299.40 745.16 300.40 744.45 301.40 743.77 302.40 743.12 303.40 742.50 304.40 741.92 305.40 741.36 306.40 740.84 307.40 740.35 308.40 739.88 309.40 739.45 310.40 739.04 311.40 738.66 312.40 738.30 313.40 737.98 314.40 737.67 315.40 737.39 316.40 737.14 317.40 736.91 318.40 736.70 319.40 736.51 320.40 736.34 321.40 736.20 322.40 736.07 323.40 735.97 324.40 735.88 325.40 735.81 326.40 735.76 327.40 735.72 328.40 735.70 329.40 735.70 330.40 735.71 331.40 735.73 332.40 735.77 333.40 735.83 334.40 735.90 335.40 735.99 336.40 736.09 337.40 736.22 338.40 736.36 339.40 736.51 340.40 736.69 341.40 736.88 342.40 737.09 343.40 737.33 344.40 737.58 345.40 737.85 346.40 738.14 347.40 738.45 348.40 738.79 349.40 739.14 350.40 739.52 351.40 739.92 352.40 740.34 353.40 740.79 354.40 741.25 355.40 741.75 356.40 742.26 357.40 742.81 358.40 743.37 359.40 743.96 360.40 744.58 361.40 745.23 362.40 745.90 363.40 746.59 364.40 747.32 365.40 748.07 366.40 748.85 367.40 749.66 368.40 750.49 369.40 751.36 370.40 752.26 371.40 753.18 372.40 754.14 373.40 755.13 374.40 756.14 375.40 757.19 376.40 758.27 377.40 759.39 378.40 760.53 379.40 761.71 380.40 762.92 381.40 764.17 382.40 765.45 383.40 766.77 384.40 768.11 385.40 769.50 386.40 770.92 387.40 772.38 388.40 773.87 389.40 775.40 390.40 776.96 391.40 778.57 392.40 780.21 393.40 781.89 394.40 783.61 395.40 785.37 396.40 787.17 397.40 789.00 398.40 790.88 399.40 792.80 400.40 794.76 401.40 796.76 402.40 798.80 403.40 800.88 404.40 803.01 405.40 805.18 406.40 807.39 407.40 809.65 408.40 811.95 409.40 814.29 410.40 816.68 411.40 819.12 412.40 821.60 413.40 824.12 414.40 826.70 415.40 829.31 416.40 831.98 417.40 834.69 418.40 837.45 419.40 840.26 420.40 843.12 421.40 846.03 422.40 848.98Q424.60 859.18 426.80 853.85L426.80 853.85 427.80 852.13 428.80 850.17 429.80 848.01 430.80 845.66 431.80 843.17 432.80 840.56 433.80 837.86 434.80 835.09 435.80 832.30 436.80 829.51 437.80 826.74 438.80 824.01 439.80 821.33 440.80 818.69 441.80 816.09 442.80 813.53 443.80 811.02 444.80 808.55 445.80 806.12 446.80 803.75 447.80 801.42 448.80 799.14 449.80 796.90 450.80 794.72 451.80 792.58 452.80 790.49 453.80 788.46 454.80 786.47 455.80 784.53 456.80 782.64 457.80 780.80 458.80 779.00 459.80 777.25 460.80 775.54 461.80 773.88 462.80 772.26 463.80 770.69 464.80 769.16 465.80 767.67 466.80 766.22 467.80 764.81 468.80 763.45 469.80 762.12 470.80 760.84 471.80 759.59 472.80 758.38 473.80 757.21 474.80 756.07 475.80 754.97 476.80 753.91 477.80 752.89 478.80 751.89 479.80 750.93 480.80 750.01 481.80 749.12 482.80 748.26 483.80 747.43 484.80 746.63 485.80 745.86 486.80 745.12 487.80 744.42 488.80 743.74 489.80 743.08 490.80 742.46 491.80 741.86 492.80 741.29 493.80 740.75 494.80 740.23 495.80 739.73 496.80 739.26 497.80 738.81 498.80 738.38 499.80 737.98 500.80 737.60 501.80 737.23 502.80 736.89 503.80 736.57 504.80 736.27 505.80 735.99 506.80 735.72 507.80 735.48 508.80 735.26 509.80 735.06 510.80 734.88 511.80 734.72 512.80 734.59 513.80 734.47 514.80 734.38 515.80 734.31 516.80 734.26 517.80 734.24 518.80 734.23 519.80 734.26 520.80 734.30 521.80 734.37 522.80 734.47 523.80 734.58 524.80 734.73 525.80 734.90 526.80 735.09 527.80 735.31 528.80 735.56 529.80 735.83 530.80 736.12 531.80 736.45 532.80 736.80 533.80 737.18 534.80 737.58 535.80 738.02 536.80 738.48 537.80 738.97 538.80 739.49 539.80 740.03 540.80 740.61 541.80 741.22 542.80 741.85 543.80 742.52 544.80 743.21 545.80 743.94 546.80 744.69 547.80 745.48 548.80 746.30 549.80 747.14 550.80 748.02 551.80 748.94 552.80 749.88 553.80 750.86 554.80 751.87 555.80 752.91 556.80 753.99 557.80 755.10 558.80 756.24 559.80 757.42 560.80 758.63 561.80 759.88 562.80 761.16 563.80 762.47 564.80 763.83 565.80 765.21 566.80 766.64 567.80 768.10 568.80 769.59 569.80 771.12 570.80 772.69 571.80 774.30 572.80 775.94 573.80 777.62 574.80 779.34 575.80 781.10 576.80 782.90 577.80 784.73 578.80 786.61 579.80 788.52 580.80 790.47 581.80 792.47 582.80 794.50 583.80 796.57 584.80 798.69 585.80 800.84 586.80 803.04 587.80 805.28 588.80 807.55 589.80 809.88 590.80 812.24 591.80 814.64 592.80 817.09 593.80 819.58 594.80 822.12 595.80 824.70 596.80 827.32 597.80 829.99 598.80 832.70 599.40 834.34" stroke="#000" stroke-width="1.3" fill="none" stroke-linejoin="round"/>
<path d="M111 722.5H600M111 862.5H600M111.5 722V863M599.5 722V863" stroke="#000" stroke-width="1" fill="none" shape-rendering="crispEdges"/>
<text x="82.40" y="859.80" font-size="14.10" textLength="14.26" lengthAdjust="spacingAndGlyphs">1.</text>
<text x="82.87" y="835.60" font-size="14.10" textLength="13.73" lengthAdjust="spacingAndGlyphs">2.</text>
<text x="83.08" y="811.40" font-size="14.10" textLength="13.49" lengthAdjust="spacingAndGlyphs">3.</text>
<text x="83.34" y="787.20" font-size="14.10" textLength="13.21" lengthAdjust="spacingAndGlyphs">4.</text>
<text x="83.05" y="763.00" font-size="14.10" textLength="13.53" lengthAdjust="spacingAndGlyphs">5.</text>
<text x="82.86" y="738.80" font-size="14.10" textLength="13.74" lengthAdjust="spacingAndGlyphs">6.</text>
<text transform="translate(65.00,811.80) rotate(-90)" x="-1.08" y="0" font-size="14.54" textLength="7.32" lengthAdjust="spacingAndGlyphs">L</text>
<text transform="translate(65.00,800.90) rotate(-90)" x="-0.83" y="0" font-size="14.54" textLength="14.04" lengthAdjust="spacingAndGlyphs">(R</text>
<text transform="translate(72.10,785.60) rotate(-90)" x="-1.01" y="0" font-size="14.54" textLength="8.25" lengthAdjust="spacingAndGlyphs">E</text>
<text transform="translate(65.00,777.10) rotate(-90)" x="-0.07" y="0" font-size="14.54" textLength="4.14" lengthAdjust="spacingAndGlyphs">)</text>
<text x="92.07" y="890.90" font-size="13.23" textLength="40.67" lengthAdjust="spacingAndGlyphs">00:00</text>
<text x="213.82" y="890.90" font-size="13.23" textLength="40.67" lengthAdjust="spacingAndGlyphs">06:00</text>
<text x="335.57" y="890.90" font-size="13.23" textLength="40.67" lengthAdjust="spacingAndGlyphs">12:00</text>
<text x="457.32" y="890.90" font-size="13.23" textLength="40.67" lengthAdjust="spacingAndGlyphs">18:00</text>
<text x="579.07" y="890.90" font-size="13.23" textLength="40.67" lengthAdjust="spacingAndGlyphs">00:00</text>
<text x="92.14" y="907.60" font-size="13.23" textLength="40.67" lengthAdjust="spacingAndGlyphs">5.116</text>
<text x="214.00" y="907.60" font-size="13.23" textLength="40.67" lengthAdjust="spacingAndGlyphs">1.632</text>
<text x="335.64" y="907.60" font-size="13.23" textLength="40.67" lengthAdjust="spacingAndGlyphs">5.568</text>
<text x="457.32" y="907.60" font-size="13.23" textLength="40.67" lengthAdjust="spacingAndGlyphs">5.030</text>
<text x="579.14" y="907.60" font-size="13.23" textLength="40.67" lengthAdjust="spacingAndGlyphs">1.868</text>
<text x="77.61" y="924.80" font-size="13.23" textLength="55.12" lengthAdjust="spacingAndGlyphs">-16.870</text>
<text x="199.36" y="924.80" font-size="13.23" textLength="55.12" lengthAdjust="spacingAndGlyphs">-10.020</text>
<text x="330.23" y="924.80" font-size="13.23" textLength="46.08" lengthAdjust="spacingAndGlyphs">-2.073</text>
<text x="451.97" y="924.80" font-size="13.23" textLength="46.08" lengthAdjust="spacingAndGlyphs">-6.818</text>
<text x="573.49" y="924.80" font-size="13.23" textLength="46.08" lengthAdjust="spacingAndGlyphs">-0.284</text>
<text x="92.14" y="941.30" font-size="13.23" textLength="40.67" lengthAdjust="spacingAndGlyphs">7.138</text>
<text x="204.78" y="941.30" font-size="13.23" textLength="49.71" lengthAdjust="spacingAndGlyphs">15.400</text>
<text x="335.41" y="941.30" font-size="13.23" textLength="40.67" lengthAdjust="spacingAndGlyphs">9.334</text>
<text x="457.47" y="941.30" font-size="13.23" textLength="40.67" lengthAdjust="spacingAndGlyphs">7.151</text>
<text x="570.03" y="941.30" font-size="13.23" textLength="49.71" lengthAdjust="spacingAndGlyphs">14.480</text>
<text x="92.25" y="958.50" font-size="13.23" textLength="40.67" lengthAdjust="spacingAndGlyphs">5.587</text>
<text x="213.89" y="958.50" font-size="13.23" textLength="40.67" lengthAdjust="spacingAndGlyphs">1.683</text>
<text x="335.64" y="958.50" font-size="13.23" textLength="40.67" lengthAdjust="spacingAndGlyphs">5.576</text>
<text x="457.50" y="958.50" font-size="13.23" textLength="40.67" lengthAdjust="spacingAndGlyphs">5.102</text>
<text x="579.14" y="958.50" font-size="13.23" textLength="40.67" lengthAdjust="spacingAndGlyphs">1.868</text>
<text x="55.68" y="905.70" font-size="14.10" textLength="9.85" lengthAdjust="spacingAndGlyphs">R</text>
<text x="66.15" y="909.90" font-size="10.03" textLength="5.29" lengthAdjust="spacingAndGlyphs">E</text>
<text x="39.59" y="924.80" font-size="13.23" textLength="32.71" lengthAdjust="spacingAndGlyphs">MLat</text>
<text x="43.72" y="941.30" font-size="13.23" textLength="28.81" lengthAdjust="spacingAndGlyphs">MLT</text>
<text x="64.02" y="958.50" font-size="13.23" textLength="8.70" lengthAdjust="spacingAndGlyphs">L</text>
<text x="293.69" y="978.20" font-size="13.52" textLength="82.27" lengthAdjust="spacingAndGlyphs">2016-03-09</text>
<text x="379.49" y="978.20" font-size="13.52" textLength="37.91" lengthAdjust="spacingAndGlyphs">(069)</text>
</svg></body></html>
